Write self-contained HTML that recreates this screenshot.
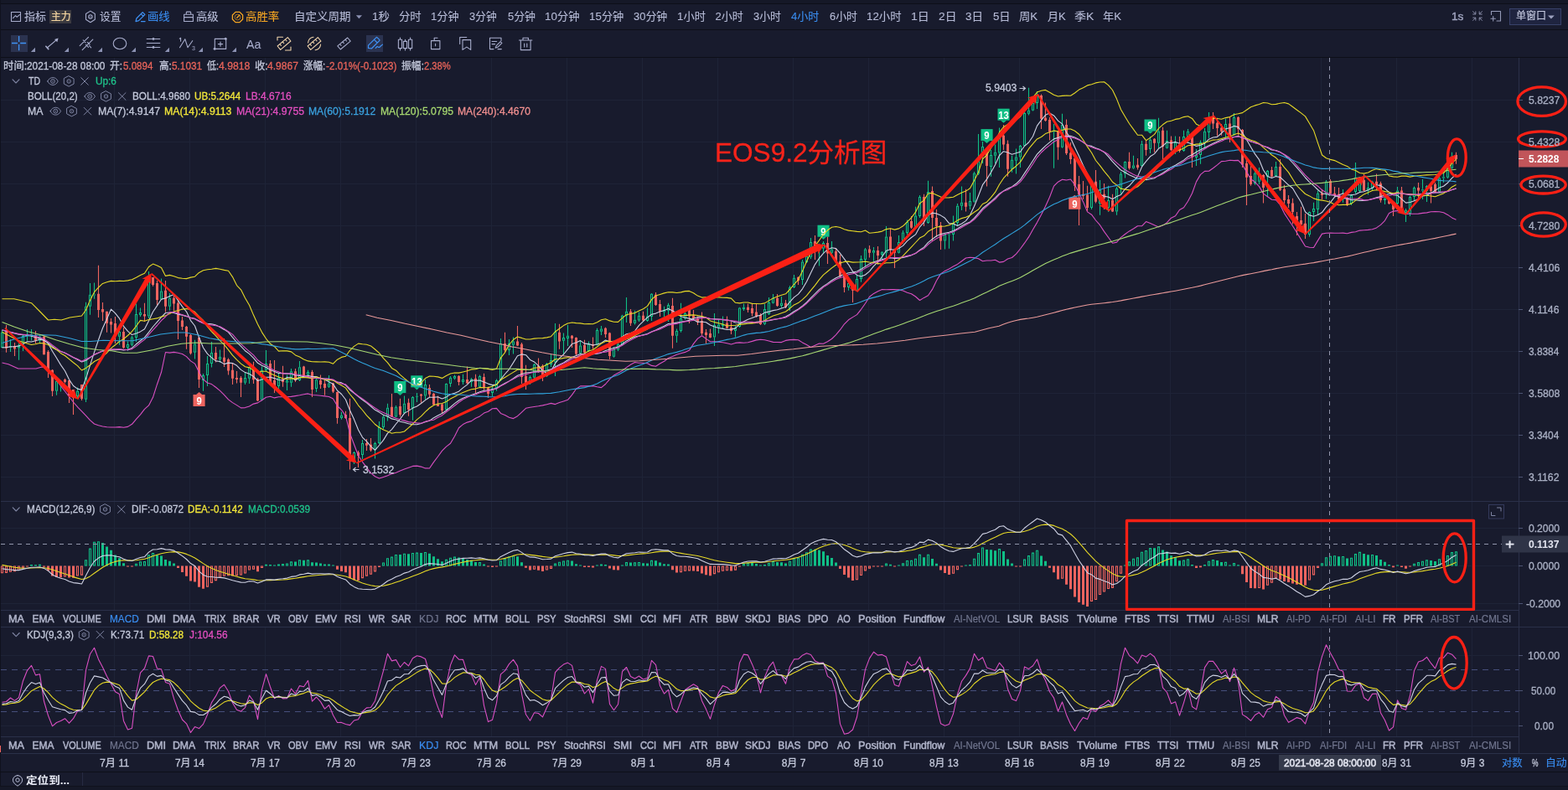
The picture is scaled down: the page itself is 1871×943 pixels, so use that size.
<!DOCTYPE html>
<html lang="zh"><head><meta charset="utf-8"><title>EOS 4小时 K线分析</title><style>
html,body{margin:0;padding:0;background:#181b2d;}
body{width:1871px;height:943px;overflow:hidden;position:relative;font-family:"Liberation Sans","Noto Sans CJK SC",sans-serif;}
.t{position:absolute;white-space:pre;transform-origin:0 50%;-webkit-text-stroke:0.3px currentColor;}
.b{position:absolute;}
svg{position:absolute;left:0;top:0;}
</style></head>
<body>
<div class="b" style="left:0px;top:0px;width:1871px;height:4px;background:#151827;"></div><div class="b" style="left:0px;top:4px;width:1871px;height:1px;background:#0d0f18;"></div><div class="b" style="left:0px;top:35px;width:1871px;height:1px;background:#0d0f18;"></div><div class="b" style="left:0px;top:68px;width:1871px;height:1px;background:#0d0f18;"></div><div class="b" style="left:0px;top:0px;width:1px;height:943px;background:#10121e;"></div><div class="b" style="left:0px;top:921px;width:1871px;height:1px;background:#0d0f18;"></div><div class="b" style="left:0px;top:938px;width:1871px;height:1px;background:#10121c;"></div><div class="b" style="left:0px;top:939px;width:1871px;height:4px;background:#151827;"></div><div class="b" style="left:0px;top:890px;width:1px;height:8px;background:#ee645f;"></div><div class="b" style="left:98px;top:922px;width:1px;height:16px;background:#262b42;"></div><div class="b" style="left:59px;top:12px;width:26px;height:16px;background:#3b3a40;"></div><div class="b" style="left:13px;top:42px;width:20px;height:20px;background:#2b3350;"></div><div class="b" style="left:437px;top:42px;width:20px;height:20px;background:#2b3350;"></div><div class="b" style="left:1801px;top:10px;width:62px;height:20px;background:#1f2440;border:1px solid #39426a;box-sizing:border-box"></div>
<svg width="1871" height="943" viewBox="0 0 1871 943">
<path d="M136.5 69V598M136.5 599V728M136.5 749V879M226.5 69V598M226.5 599V728M226.5 749V879M316.5 69V598M316.5 599V728M316.5 749V879M406.5 69V598M406.5 599V728M406.5 749V879M496.5 69V598M496.5 599V728M496.5 749V879M586.5 69V598M586.5 599V728M586.5 749V879M676.5 69V598M676.5 599V728M676.5 749V879M766.5 69V598M766.5 599V728M766.5 749V879M856.5 69V598M856.5 599V728M856.5 749V879M946.5 69V598M946.5 599V728M946.5 749V879M1036.5 69V598M1036.5 599V728M1036.5 749V879M1126.5 69V598M1126.5 599V728M1126.5 749V879M1216.5 69V598M1216.5 599V728M1216.5 749V879M1306.5 69V598M1306.5 599V728M1306.5 749V879M1396.5 69V598M1396.5 599V728M1396.5 749V879M1486.5 69V598M1486.5 599V728M1486.5 749V879M1576.5 69V598M1576.5 599V728M1576.5 749V879M1666.5 69V598M1666.5 599V728M1666.5 749V879M1756.5 69V598M1756.5 599V728M1756.5 749V879M1 119.5H1812M1 169.5H1812M1 219.5H1812M1 269.5H1812M1 319.5H1812M1 369.5H1812M1 419.5H1812M1 469.5H1812M1 519.5H1812M1 569.5H1812M1 630.5H1812M1 675.5H1812M1 720.5H1812M1 782.5H1812M1 866.5H1812" stroke="#1e2337" stroke-width="1" fill="none"/>
<path d="M1 598.5H1871M1 728.5H1812M1 748.5H1871M1 879.5H1812M1 899.5H1871M1812.5 69V899" stroke="#2a3049" stroke-width="1" fill="none"/>
<path d="M1812 119.5h5M1812 169.5h5M1812 219.5h5M1812 269.5h5M1812 319.5h5M1812 369.5h5M1812 419.5h5M1812 469.5h5M1812 519.5h5M1812 569.5h5M1812 630.5h5M1812 675.5h5M1812 720.5h5M1812 782.5h5M1812 824.5h5M1812 866.5h5" stroke="#4d5473" stroke-width="1" fill="none"/>
<path d="M1 799.5H1812M1 824.5H1812M1 849.5H1812" stroke="#464f7c" stroke-width="1" stroke-dasharray="7 6" fill="none"/>
<path d="M2.5 394V396.7M12.5 405V413M12.5 414.6V420M11 413.8h3M22.5 410V412.8M22.5 415.4V429.8M27.5 399V401M27.5 411V419M32.5 393V399M32.5 401.5V406.7M37.5 393V398.4M37.5 400V406.4M36 399.2h3M47.5 400V401.7M47.5 406.7V410M67.5 466.7V471.7M72.5 458V467.5M71 457.4h3M92.5 462.5V466.7M92.5 473V475M102.5 360.8V365.8M102.5 476.7V480M107.5 338V351.7M107.5 365.8V375.8M112.5 337.5V351M112.5 353V356.7M111 352h3M142.5 391V396M142.5 401.7V411.7M152.5 407.5V411M152.5 415V419M157.5 401V402.5M157.5 411.7V413.3M162.5 362.5V375M162.5 403V408M167.5 367.5V373M167.5 376V378M177.5 324V331M177.5 377.5V380M192.5 332.5V347.5M192.5 357.5V358M202.5 350V355.8M202.5 365.8V370.8M232.5 405.8V410.5M232.5 420.8V428.5M242.5 446V448M242.5 454V466.7M247.5 425V434M247.5 448V461M252.5 408V421M252.5 434V438.5M262.5 417.5V426M262.5 429V433M292.5 444V451M292.5 456.7V459M297.5 437.5V438M297.5 451.7V458M312.5 437.5V441.7M312.5 477.5V478.3M317.5 418V434M317.5 441.7V443M332.5 445V451M332.5 461V464M342.5 447.5V454M342.5 456.7V466M347.5 440V443.3M347.5 456.7V461.7M357.5 431V438.3M357.5 454V455M367.5 441.7V444M367.5 447.5V449M377.5 451.7V453.3M377.5 464V468M392.5 448V457.5M392.5 461.7V463M407.5 491.7V495.8M407.5 499V500.8M422.5 539V540M422.5 551.7V554M432.5 525V529M432.5 543V548M447.5 527.5V529M447.5 536.7V547.5M452.5 503V510M452.5 529V530M457.5 495.8V497.5M457.5 510V512.5M462.5 481.7V486.7M462.5 497.5V502.5M472.5 484V485.8M472.5 497.5V498.3M482.5 472.5V481.7M482.5 493V494M492.5 473V474M492.5 487.5V501.7M497.5 469V472.5M497.5 474V480M496 473.2h3M507.5 453V459M507.5 472.5V477.5M532.5 457.5V458M532.5 489V490M537.5 449V450.8M537.5 458V461.7M542.5 447.5V449M542.5 451.7V453.3M552.5 446.7V453M552.5 456V459M562.5 451V452.5M562.5 456V461.7M572.5 447.5V449M572.5 461.7V462.5M587.5 460V464M587.5 469V473M592.5 452.5V454M592.5 463V466.7M597.5 404V410M597.5 454V455M607.5 405V410M607.5 418V424M612.5 402.5V407.5M612.5 411.7V422.5M632.5 448.3V450M632.5 457.5V459M637.5 434V435M637.5 450.8V451.7M652.5 433V434M652.5 449V450M657.5 422.5V430M657.5 435V438M662.5 386V396M662.5 432.5V449M672.5 397.5V403M672.5 406.7V422.5M677.5 388V400.8M677.5 404V413M692.5 406.7V412.5M692.5 421.7V422.5M702.5 407.5V410.8M702.5 419V420M712.5 391.7V394M712.5 411.7V412.5M717.5 389V392.5M717.5 395.8V400M732.5 414V416.7M732.5 425.8V426.7M737.5 409V410.8M737.5 417.5V419M742.5 375.8V376.7M742.5 411.7V412.5M747.5 355V371.7M747.5 376.7V385M757.5 370.8V381.7M757.5 385.8V387.5M762.5 372.5V376.7M762.5 382.5V384M772.5 367.5V377.5M772.5 383V384M777.5 350V350.8M777.5 378V383M792.5 365.8V370M792.5 372.5V378M797.5 361.7V364M797.5 370.8V384M807.5 392.5V395M807.5 400.8V409M812.5 361.7V380M812.5 395V396.7M817.5 370V374M817.5 380V381.7M852.5 374V388M852.5 402.5V413M857.5 381.7V387.5M857.5 390.8V398M862.5 377.5V386.7M862.5 389V391.7M877.5 389V391.7M877.5 395V402.5M882.5 366.7V367.5M882.5 390V391M887.5 362.5V366.7M887.5 369V371M912.5 363V369M912.5 386.7V388M917.5 355V361M917.5 375V376M922.5 351V355.8M922.5 361.7V362.5M932.5 354V361.7M932.5 365V367.5M942.5 341V343M942.5 368V371M947.5 328V331.7M947.5 343V344M957.5 310V312.5M957.5 334V340M962.5 304V305.8M962.5 313V314M967.5 284V289M967.5 306.7V309M977.5 290.8V291.7M977.5 296.7V317.5M982.5 288V290M982.5 296.7V301.7M992.5 288V297.5M992.5 301.7V303M1012.5 336.7V338M1012.5 343V346.7M1022.5 328V333M1022.5 346.7V348M1027.5 305V309M1027.5 333V336.7M1032.5 296V297.5M1032.5 310V318M1042.5 295V299M1042.5 301.7V311.7M1052.5 300V300.8M1052.5 304V310M1057.5 270V282.5M1057.5 301.7V308M1072.5 281V289M1072.5 301.7V302.5M1077.5 275V277.5M1077.5 289V291M1082.5 262.5V265M1082.5 278V280M1092.5 246.7V257.5M1092.5 270.8V272.5M1097.5 233V235M1097.5 258V260M1107.5 215.8V229M1107.5 266V267M1127.5 279V280M1127.5 287.5V297.5M1132.5 277.5V279M1132.5 281V296.7M1131 280h3M1137.5 257.5V266M1137.5 280V287.5M1142.5 243V245.8M1142.5 266V270M1147.5 222.5V241.7M1147.5 245.8V251M1157.5 230V240M1157.5 245.8V250M1162.5 205V206.7M1162.5 240.8V241.7M1167.5 160V192.5M1167.5 207.5V209M1172.5 169V175M1172.5 182.5V195M1182.5 179V185M1182.5 199V210.8M1187.5 172.5V181.7M1187.5 185.8V195M1192.5 152.5V160.8M1192.5 182.5V200M1207.5 185.8V190.8M1207.5 201.7V205.8M1212.5 177.5V187.5M1212.5 191.7V207.5M1217.5 173V174M1217.5 187.5V200M1222.5 134V135M1222.5 174V175M1227.5 104.7V131.7M1227.5 135.8V137.5M1232.5 115V123M1232.5 131.7V132.5M1237.5 109V113M1237.5 123V130M1257.5 148V155.8M1257.5 158V200.8M1256 156.9h3M1267.5 135.8V149M1267.5 175.8V176.7M1302.5 220V221M1302.5 248V250M1312.5 215V226.7M1312.5 243V256.7M1322.5 221.7V239M1322.5 248V253M1332.5 223V225M1332.5 252.5V256.7M1337.5 205V207.5M1337.5 225V231.7M1342.5 192.5V193M1342.5 207.5V212.5M1352.5 185.8V197.5M1352.5 200.8V201.7M1362.5 168V171.7M1362.5 198V199M1372.5 163V166.7M1372.5 178V183M1382.5 140.8V156.7M1382.5 170.8V176.7M1392.5 155.8V168M1392.5 176.7V177.5M1402.5 162.5V170M1402.5 178V184M1412.5 155.8V163M1412.5 180V181M1417.5 154V156.7M1417.5 165V170M1427.5 178V185M1427.5 188V198M1432.5 167.5V170M1432.5 185V195.8M1437.5 153V156.7M1437.5 170.8V176.7M1442.5 134V145M1442.5 158V165M1462.5 141.7V148M1462.5 157.5V165M1472.5 135V140M1472.5 160.8V161.7M1497.5 199V206.7M1497.5 219V220.8M1502.5 200V210M1502.5 216.7V220M1512.5 203V204M1512.5 210.8V235M1522.5 193V199M1522.5 210V210.8M1562.5 252.5V253M1562.5 280V282.5M1567.5 241.7V249M1567.5 253V264M1572.5 227.5V230.8M1572.5 250V256.7M1582.5 215V216.7M1582.5 231.7V237.5M1602.5 226V233M1602.5 238V241.7M1612.5 231.7V233M1612.5 243V245M1617.5 194V211.7M1617.5 229V231M1622.5 211V213M1622.5 228V229M1632.5 217.5V224M1632.5 227.5V232.5M1637.5 215.8V216.7M1637.5 225V228M1652.5 235V236.7M1652.5 239V244M1667.5 223V227.5M1667.5 243V244M1677.5 249V250.8M1677.5 254V265M1682.5 234V235M1682.5 255V258M1687.5 222.5V224M1687.5 235V240M1697.5 214V225.8M1697.5 228V238M1696 226.9h3M1702.5 221V222M1702.5 228V241M1717.5 210V212.5M1717.5 229V230M1722.5 204V210.8M1722.5 213V218M1721 211.9h3M1727.5 199V200M1727.5 211.7V213M1732.5 181.7V186.7M1732.5 200.8V201.7" stroke="#10bf86" stroke-width="1.1" fill="none"/>
<path d="M1.5 397.2h2V414.5h-2ZM21.5 413.3h2V414.9h-2ZM26.5 401.5h2V410.5h-2ZM31.5 399.5h2V401h-2ZM46.5 402.2h2V406.2h-2ZM66.5 455.5h2V466.2h-2ZM91.5 467.2h2V472.5h-2ZM101.5 366.3h2V476.2h-2ZM106.5 352.2h2V365.3h-2ZM141.5 396.5h2V401.2h-2ZM151.5 411.5h2V414.5h-2ZM156.5 403h2V411.2h-2ZM161.5 375.5h2V402.5h-2ZM166.5 373.5h2V375.5h-2ZM176.5 331.5h2V377h-2ZM191.5 348h2V357h-2ZM201.5 356.3h2V365.3h-2ZM231.5 411h2V420.3h-2ZM241.5 448.5h2V453.5h-2ZM246.5 434.5h2V447.5h-2ZM251.5 421.5h2V433.5h-2ZM261.5 426.5h2V428.5h-2ZM291.5 451.5h2V456.2h-2ZM296.5 438.5h2V451.2h-2ZM311.5 442.2h2V477h-2ZM316.5 434.5h2V441.2h-2ZM331.5 451.5h2V460.5h-2ZM341.5 454.5h2V456.2h-2ZM346.5 443.8h2V456.2h-2ZM356.5 438.8h2V453.5h-2ZM366.5 444.5h2V447h-2ZM376.5 453.8h2V463.5h-2ZM391.5 458h2V461.2h-2ZM406.5 496.3h2V498.5h-2ZM421.5 540.5h2V551.2h-2ZM431.5 529.5h2V542.5h-2ZM446.5 529.5h2V536.2h-2ZM451.5 510.5h2V528.5h-2ZM456.5 498h2V509.5h-2ZM461.5 487.2h2V497h-2ZM471.5 486.3h2V497h-2ZM481.5 482.2h2V492.5h-2ZM491.5 474.5h2V487h-2ZM506.5 459.5h2V472h-2ZM531.5 458.5h2V488.5h-2ZM536.5 451.3h2V457.5h-2ZM541.5 449.5h2V451.2h-2ZM551.5 453.5h2V455.5h-2ZM561.5 453h2V455.5h-2ZM571.5 449.5h2V461.2h-2ZM586.5 464.5h2V468.5h-2ZM591.5 454.5h2V462.5h-2ZM596.5 410.5h2V453.5h-2ZM606.5 410.5h2V417.5h-2ZM611.5 408h2V411.2h-2ZM631.5 450.5h2V457h-2ZM636.5 435.5h2V450.3h-2ZM651.5 434.5h2V448.5h-2ZM656.5 430.5h2V434.5h-2ZM661.5 396.5h2V432h-2ZM671.5 403.5h2V406.2h-2ZM676.5 401.3h2V403.5h-2ZM691.5 413h2V421.2h-2ZM701.5 411.3h2V418.5h-2ZM711.5 394.5h2V411.2h-2ZM716.5 393h2V395.3h-2ZM731.5 417.2h2V425.3h-2ZM736.5 411.3h2V417h-2ZM741.5 377.2h2V411.2h-2ZM746.5 372.2h2V376.2h-2ZM756.5 382.2h2V385.3h-2ZM761.5 377.2h2V382h-2ZM771.5 378h2V382.5h-2ZM776.5 351.3h2V377.5h-2ZM791.5 370.5h2V372h-2ZM796.5 364.5h2V370.3h-2ZM806.5 395.5h2V400.3h-2ZM811.5 380.5h2V394.5h-2ZM816.5 374.5h2V379.5h-2ZM851.5 388.5h2V402h-2ZM856.5 388h2V390.3h-2ZM861.5 387.2h2V388.5h-2ZM876.5 392.2h2V394.5h-2ZM881.5 368h2V389.5h-2ZM886.5 367.2h2V368.5h-2ZM911.5 369.5h2V386.2h-2ZM916.5 361.5h2V374.5h-2ZM921.5 356.3h2V361.2h-2ZM931.5 362.2h2V364.5h-2ZM941.5 343.5h2V367.5h-2ZM946.5 332.2h2V342.5h-2ZM956.5 313h2V333.5h-2ZM961.5 306.3h2V312.5h-2ZM966.5 289.5h2V306.2h-2ZM976.5 292.2h2V296.2h-2ZM981.5 290.5h2V296.2h-2ZM991.5 298h2V301.2h-2ZM1011.5 338.5h2V342.5h-2ZM1021.5 333.5h2V346.2h-2ZM1026.5 309.5h2V332.5h-2ZM1031.5 298h2V309.5h-2ZM1041.5 299.5h2V301.2h-2ZM1051.5 301.3h2V303.5h-2ZM1056.5 283h2V301.2h-2ZM1071.5 289.5h2V301.2h-2ZM1076.5 278h2V288.5h-2ZM1081.5 265.5h2V277.5h-2ZM1091.5 258h2V270.3h-2ZM1096.5 235.5h2V257.5h-2ZM1106.5 229.5h2V265.5h-2ZM1126.5 280.5h2V287h-2ZM1136.5 266.5h2V279.5h-2ZM1141.5 246.3h2V265.5h-2ZM1146.5 242.2h2V245.3h-2ZM1156.5 240.5h2V245.3h-2ZM1161.5 207.2h2V240.3h-2ZM1166.5 193h2V207h-2ZM1171.5 175.5h2V182h-2ZM1181.5 185.5h2V198.5h-2ZM1186.5 182.2h2V185.3h-2ZM1191.5 161.3h2V182h-2ZM1206.5 191.3h2V201.2h-2ZM1211.5 188h2V191.2h-2ZM1216.5 174.5h2V187h-2ZM1221.5 135.5h2V173.5h-2ZM1226.5 132.2h2V135.3h-2ZM1231.5 123.5h2V131.2h-2ZM1236.5 113.5h2V122.5h-2ZM1266.5 149.5h2V175.3h-2ZM1301.5 221.5h2V247.5h-2ZM1311.5 227.2h2V242.5h-2ZM1321.5 239.5h2V247.5h-2ZM1331.5 225.5h2V252h-2ZM1336.5 208h2V224.5h-2ZM1341.5 193.5h2V207h-2ZM1351.5 198h2V200.3h-2ZM1361.5 172.2h2V197.5h-2ZM1371.5 167.2h2V177.5h-2ZM1381.5 157.2h2V170.3h-2ZM1391.5 168.5h2V176.2h-2ZM1401.5 170.5h2V177.5h-2ZM1411.5 163.5h2V179.5h-2ZM1416.5 157.2h2V164.5h-2ZM1426.5 185.5h2V187.5h-2ZM1431.5 170.5h2V184.5h-2ZM1436.5 157.2h2V170.3h-2ZM1441.5 145.5h2V157.5h-2ZM1461.5 148.5h2V157h-2ZM1471.5 140.5h2V160.3h-2ZM1496.5 207.2h2V218.5h-2ZM1501.5 210.5h2V216.2h-2ZM1511.5 204.5h2V210.3h-2ZM1521.5 199.5h2V209.5h-2ZM1561.5 253.5h2V279.5h-2ZM1566.5 249.5h2V252.5h-2ZM1571.5 231.3h2V249.5h-2ZM1581.5 217.2h2V231.2h-2ZM1601.5 233.5h2V237.5h-2ZM1611.5 233.5h2V242.5h-2ZM1616.5 212.2h2V228.5h-2ZM1621.5 213.5h2V227.5h-2ZM1631.5 224.5h2V227h-2ZM1636.5 217.2h2V224.5h-2ZM1651.5 237.2h2V238.5h-2ZM1666.5 228h2V242.5h-2ZM1676.5 251.3h2V253.5h-2ZM1681.5 235.5h2V254.5h-2ZM1686.5 224.5h2V234.5h-2ZM1701.5 222.5h2V227.5h-2ZM1716.5 213h2V228.5h-2ZM1726.5 200.5h2V211.2h-2ZM1731.5 187.2h2V200.3h-2Z" stroke="#10bf86" stroke-width="1.1" fill="#181b2d"/>
<path d="M7.5 388V420.8M17.5 409V425M42.5 395V410M52.5 401V423.3M57.5 418V451M62.5 441V473M77.5 451.7V457.5M82.5 454V481M87.5 465V495M97.5 459V478M117.5 316.7V379M122.5 361V383M127.5 371.7V396.7M132.5 380V397.5M137.5 378V410M147.5 391V416M172.5 361.7V384M182.5 331V341.7M187.5 335V364M197.5 335V372.5M207.5 353V370.8M212.5 357.5V405M217.5 378V394M222.5 389V416.7M227.5 399V423.3M237.5 403V463M257.5 414V432.5M267.5 404V438M272.5 427.5V447.5M277.5 434V459M282.5 443V457.5M287.5 449V474M302.5 431.7V458M307.5 451V479M322.5 430V456.7M327.5 430V469M337.5 436.7V461.7M352.5 440V456M362.5 436.7V450M372.5 441.7V474M382.5 447.5V464M387.5 454V471.7M397.5 456.7V469M402.5 467.5V505.8M412.5 490.8V500M417.5 475.8V560.5M427.5 538V558M437.5 524V538M442.5 523V539M467.5 470V498M477.5 475.8V497.5M487.5 475.8V496.7M502.5 470V480.8M512.5 459V474M517.5 469V484M522.5 472.5V485M527.5 481.7V493M547.5 448V460M557.5 437.5V458M567.5 446.7V469M577.5 445.8V465.8M582.5 461.7V475M602.5 396.7V421M617.5 389V413M622.5 409V458M627.5 435.8V465M642.5 427.5V445M647.5 435V455M667.5 386.7V416.7M682.5 400V415M687.5 402.5V424M697.5 405.8V421.7M707.5 402.5V416.7M722.5 390.8V403M727.5 396.7V429M752.5 369V389M767.5 371.7V384M782.5 349V365M787.5 358V378M802.5 355.8V415.8M822.5 368V386M827.5 370V382.5M832.5 377.5V388M837.5 372.5V400M842.5 393V410M847.5 392.5V403.5M867.5 377.5V392.5M872.5 384V399M892.5 362.5V373M897.5 363V377.5M902.5 363V379M907.5 374V388M927.5 351V366M937.5 358V368M952.5 330V340M972.5 281V310M987.5 282.5V315M997.5 296V313M1002.5 304V331M1007.5 328V349M1017.5 338V361M1037.5 293V307.5M1047.5 294V316M1062.5 272.5V303M1067.5 296.7V320M1087.5 258V273M1102.5 231.7V270M1112.5 222.5V288M1117.5 250V283M1122.5 265V298M1152.5 225.8V252.5M1177.5 178V222.5M1197.5 149V179M1202.5 167.5V210.8M1242.5 112.5V154M1247.5 122.5V145M1252.5 140V167.5M1262.5 155.8V190.8M1272.5 142.5V185M1277.5 170V195.8M1282.5 188V228M1287.5 210V269M1292.5 216V238M1297.5 221.7V251.7M1307.5 203V242.5M1317.5 219V250M1327.5 231.7V253M1347.5 181.7V202.5M1357.5 189V202.5M1367.5 167.5V185.8M1377.5 165V181.7M1387.5 151.7V190M1397.5 162.5V180M1407.5 163V182M1422.5 160.8V200M1447.5 134V154M1452.5 140.8V162.5M1457.5 148V161.7M1467.5 140V170M1477.5 139V161.7M1482.5 154V200M1487.5 190.8V245M1492.5 198V221.7M1507.5 208V242.5M1517.5 199V211.7M1527.5 190V228M1532.5 220.8V243M1537.5 233V248M1542.5 236.7V267.5M1547.5 253V281M1552.5 246.7V269M1557.5 255V285M1577.5 225.8V238M1587.5 214V231.4M1592.5 223V235M1597.5 224V239M1607.5 235V246M1627.5 208V228M1642.5 207.5V226.7M1647.5 216.7V241.7M1657.5 235.8V244M1662.5 240.8V258M1672.5 223V249M1692.5 218V236.7M1707.5 221.7V242.5M1712.5 218V230M1737.5 181.7V195.8" stroke="#ee645f" stroke-width="1.1" fill="none"/>
<path d="M6 395.8h3V415.8h-3ZM16 413h3V416.5h-3ZM41 400h3V406.7h-3ZM51 401.7h3V423.3h-3ZM56 420h3V441.7h-3ZM61 441.7h3V466.7h-3ZM76 453h3V456h-3ZM81 454h3V473h-3ZM86 465h3V475h-3ZM96 459h3V476h-3ZM116 350.8h3V370h-3ZM121 369h3V372.5h-3ZM126 371.7h3V385.8h-3ZM131 384h3V387.5h-3ZM136 386h3V400h-3ZM146 396h3V415h-3ZM171 375h3V377.5h-3ZM181 331h3V340h-3ZM186 338h3V358h-3ZM196 346.7h3V365.8h-3ZM206 355.8h3V362.5h-3ZM211 361.7h3V383h-3ZM216 382.5h3V390h-3ZM221 390h3V401.7h-3ZM226 400h3V421.7h-3ZM236 403h3V453h-3ZM256 421h3V429h-3ZM266 426.7h3V431.7h-3ZM271 429h3V442.5h-3ZM276 441.7h3V451.7h-3ZM281 451h3V453h-3ZM286 451h3V456.7h-3ZM301 441.7h3V453.3h-3ZM306 452.5h3V478.3h-3ZM321 434h3V456h-3ZM326 454h3V461h-3ZM336 452.5h3V456h-3ZM351 443.3h3V454h-3ZM361 437.5h3V449h-3ZM371 444h3V465h-3ZM381 454h3V459h-3ZM386 458h3V463h-3ZM396 457.5h3V467.5h-3ZM401 468h3V499h-3ZM411 495h3V499h-3ZM416 499h3V550h-3ZM426 540h3V544h-3ZM436 529h3V531.7h-3ZM441 530.8h3V537.5h-3ZM466 485.8h3V497.5h-3ZM476 485h3V495h-3ZM486 480.8h3V489h-3ZM501 470.8h3V472.5h-3ZM511 463h3V470.8h-3ZM516 470h3V483h-3ZM521 482.5h3V485h-3ZM526 482.5h3V490h-3ZM546 449h3V456h-3ZM556 453h3V457.5h-3ZM566 451.7h3V461.7h-3ZM576 450h3V463h-3ZM581 462.5h3V470h-3ZM601 410h3V418h-3ZM616 407.5h3V412.5h-3ZM621 410.8h3V450h-3ZM626 449h3V460h-3ZM641 436.7h3V443h-3ZM646 436.7h3V449h-3ZM666 396.7h3V407.5h-3ZM681 400.8h3V404h-3ZM686 403h3V422.5h-3ZM696 411.7h3V420.8h-3ZM706 411h3V413h-3ZM721 391.7h3V399h-3ZM726 397.5h3V425h-3ZM751 371.7h3V385.8h-3ZM766 376.7h3V382.5h-3ZM781 351.7h3V364h-3ZM786 363h3V371.7h-3ZM801 365h3V400.8h-3ZM821 369h3V377.5h-3ZM826 376.7h3V380h-3ZM831 380h3V384h-3ZM836 383h3V398h-3ZM841 396.7h3V400h-3ZM846 398h3V403h-3ZM866 385.8h3V391.7h-3ZM871 390.8h3V395h-3ZM891 366.7h3V370h-3ZM896 368h3V374h-3ZM901 372.5h3V377.5h-3ZM906 376h3V387h-3ZM926 355.8h3V365h-3ZM936 361.7h3V366.7h-3ZM951 331h3V335h-3ZM971 288h3V294h-3ZM986 290h3V302.5h-3ZM996 300h3V311.7h-3ZM1001 311.7h3V330h-3ZM1006 329h3V343h-3ZM1016 339h3V346.7h-3ZM1036 297.5h3V301.7h-3ZM1046 299h3V305h-3ZM1061 282.5h3V298h-3ZM1066 297.5h3V301.7h-3ZM1086 264h3V271.7h-3ZM1101 235h3V262.5h-3ZM1111 228h3V260h-3ZM1116 260h3V270h-3ZM1121 269h3V287.5h-3ZM1151 241.7h3V246.7h-3ZM1176 180h3V198h-3ZM1196 161.7h3V172.5h-3ZM1201 171.7h3V201.7h-3ZM1241 114h3V141.7h-3ZM1246 140.8h3V144h-3ZM1251 143h3V157.5h-3ZM1261 156.7h3V175.8h-3ZM1271 149h3V183h-3ZM1276 182.5h3V190h-3ZM1281 189h3V221.7h-3ZM1286 220h3V232.5h-3ZM1291 231.7h3V234h-3ZM1296 232.5h3V248h-3ZM1306 216.7h3V240.8h-3ZM1316 231.7h3V236.7h-3ZM1326 239h3V252.5h-3ZM1346 193h3V200.8h-3ZM1356 196.7h3V200h-3ZM1366 171.7h3V179h-3ZM1376 165.8h3V170.8h-3ZM1386 155.8h3V175h-3ZM1396 167.5h3V179h-3ZM1406 173h3V180h-3ZM1421 161.7h3V188h-3ZM1446 140h3V147.5h-3ZM1451 146.7h3V153h-3ZM1456 152.5h3V156.7h-3ZM1466 147.5h3V162.5h-3ZM1476 140h3V154h-3ZM1481 155h3V196.7h-3ZM1486 195h3V211.7h-3ZM1491 210h3V220h-3ZM1506 209h3V224h-3ZM1516 203h3V210.8h-3ZM1526 199h3V226.7h-3ZM1531 225.8h3V239h-3ZM1536 238h3V243h-3ZM1541 242.5h3V253h-3ZM1546 258h3V263h-3ZM1551 263h3V268h-3ZM1556 266.7h3V280h-3ZM1576 230.8h3V233h-3ZM1586 216h3V230.7h-3ZM1591 230.8h3V233h-3ZM1596 231.7h3V238h-3ZM1606 236h3V245h-3ZM1626 215h3V227.5h-3ZM1641 216.7h3V220h-3ZM1646 219h3V239h-3ZM1656 236.7h3V243h-3ZM1661 241.7h3V250h-3ZM1671 227.5h3V248h-3ZM1691 224h3V227.5h-3ZM1706 222.5h3V228h-3ZM1711 220h3V229h-3ZM1736 185h3V190h-3Z" fill="#ee645f"/>
<rect x="230.5" y="471" width="14.1" height="14" fill="#ee645f"/><path d="M234.1 471L237.6 468L241.1 471Z" fill="#ee645f"/><text x="237.6" y="482.9" font-size="12.5" font-weight="700" fill="#fff" text-anchor="middle" textLength="6.3" lengthAdjust="spacingAndGlyphs">9</text>
<rect x="470.3" y="455" width="14.1" height="14" fill="#10bf86"/><path d="M473.9 469L477.4 472L480.9 469Z" fill="#10bf86"/><text x="477.4" y="466.9" font-size="12.5" font-weight="700" fill="#fff" text-anchor="middle" textLength="6.3" lengthAdjust="spacingAndGlyphs">9</text>
<rect x="490.3" y="448.3" width="14.1" height="14" fill="#10bf86"/><path d="M493.9 462.3L497.4 465.3L500.9 462.3Z" fill="#10bf86"/><text x="497.4" y="460.2" font-size="12.5" font-weight="700" fill="#fff" text-anchor="middle" textLength="12.6" lengthAdjust="spacingAndGlyphs">13</text>
<rect x="975.5" y="268.7" width="14.1" height="14" fill="#10bf86"/><path d="M979 282.7L982.5 285.7L986 282.7Z" fill="#10bf86"/><text x="982.5" y="280.6" font-size="12.5" font-weight="700" fill="#fff" text-anchor="middle" textLength="6.3" lengthAdjust="spacingAndGlyphs">9</text>
<rect x="1170.5" y="154.1" width="14.1" height="14" fill="#10bf86"/><path d="M1174 168.1L1177.5 171.1L1181 168.1Z" fill="#10bf86"/><text x="1177.5" y="166" font-size="12.5" font-weight="700" fill="#fff" text-anchor="middle" textLength="6.3" lengthAdjust="spacingAndGlyphs">9</text>
<rect x="1190.5" y="129.7" width="14.1" height="14" fill="#10bf86"/><path d="M1194 143.7L1197.5 146.7L1201 143.7Z" fill="#10bf86"/><text x="1197.5" y="141.6" font-size="12.5" font-weight="700" fill="#fff" text-anchor="middle" textLength="12.6" lengthAdjust="spacingAndGlyphs">13</text>
<rect x="1275.3" y="235.8" width="14.1" height="14" fill="#ee645f"/><path d="M1278.8 235.8L1282.3 232.8L1285.8 235.8Z" fill="#ee645f"/><text x="1282.3" y="247.7" font-size="12.5" font-weight="700" fill="#fff" text-anchor="middle" textLength="6.3" lengthAdjust="spacingAndGlyphs">9</text>
<rect x="1365.5" y="142.5" width="14.1" height="14" fill="#10bf86"/><path d="M1369 156.5L1372.5 159.5L1376 156.5Z" fill="#10bf86"/><text x="1372.5" y="154.4" font-size="12.5" font-weight="700" fill="#fff" text-anchor="middle" textLength="6.3" lengthAdjust="spacingAndGlyphs">9</text>
<path d="M2.5 356.7 16.7 356.7 26.7 359 37.5 361.7 48.3 372.5 57.5 382 65 381.3 73.3 382 83.3 379 97.5 377 102.5 370 107.5 358.4 112.5 348.7 117.5 343.1 122.5 338.4 127.5 336.8 132.5 335.4 137.5 335.7 142.5 335.4 147.5 335.5 152.5 334.9 157.5 333.8 162.5 331.3 167.5 328.6 172.5 326.2 177.5 318.5 182.5 315.1 187.5 316.9 192.5 319.4 197.5 329.4 202.5 328.4 207.5 329.7 212.5 331.6 217.5 332.2 222.5 332.6 227.5 331.1 232.5 330.2 237.5 325.4 242.5 322.7 247.5 321.7 252.5 321.2 257.5 320.4 262.5 321.3 267.5 322.4 272.5 323.2 277.5 330.6 282.5 340.6 287.5 345.8 292.5 355.7 297.5 364.3 302.5 376.1 307.5 387.1 312.5 396.6 317.5 404.3 322.5 410.3 327.5 413.7 332.5 419.1 337.5 418.8 342.5 418.9 347.5 419.9 352.5 423.9 357.5 426 362.5 429 367.5 430.9 372.5 431.7 377.5 431.9 382.5 432 387.5 431.9 392.5 432.2 397.5 434.2 402.5 429.2 407.5 426.4 412.5 425.2 417.5 418.3 422.5 413.4 427.5 410.1 432.5 410.8 437.5 411.3 442.5 412.9 447.5 417 452.5 421.4 457.5 427.7 462.5 432.9 467.5 439.4 472.5 442.2 477.5 447.4 482.5 451.7 487.5 455.8 492.5 459.2 497.5 460.1 502.5 457 507.5 451.6 512.5 449.1 517.5 449.3 522.5 449.9 527.5 451.4 532.5 448.5 537.5 446 542.5 445 547.5 445.1 552.5 444 557.5 442.8 562.5 440.9 567.5 440.7 572.5 439.3 577.5 439.9 582.5 440.4 587.5 441.4 592.5 440.1 597.5 427.2 602.5 420.8 607.5 411.5 612.5 405.5 617.5 402 622.5 403.4 627.5 405 632.5 405 637.5 404.1 642.5 403.8 647.5 403.6 652.5 402.9 657.5 401.7 662.5 396 667.5 392.3 672.5 388.6 677.5 386 682.5 385 687.5 385.6 692.5 385.9 697.5 386.8 702.5 386.6 707.5 386.8 712.5 384.7 717.5 381.8 722.5 380.7 727.5 382.9 732.5 384.3 737.5 384.4 742.5 379.6 747.5 375.8 752.5 374.5 757.5 373.6 762.5 371.1 767.5 368.8 772.5 365.4 777.5 357.6 782.5 353 787.5 351.4 792.5 349.9 797.5 348.8 802.5 348.9 807.5 349.5 812.5 348.9 817.5 347.6 822.5 347.4 827.5 349.7 832.5 353.1 837.5 355.1 842.5 354.8 847.5 354.6 852.5 354.7 857.5 354.9 862.5 355.2 867.5 355.4 872.5 356.1 877.5 361.3 882.5 361.9 887.5 361 892.5 361 897.5 362.4 902.5 362.5 907.5 362.8 912.5 361.9 917.5 358.9 922.5 355.9 927.5 354 932.5 352.2 937.5 350.8 942.5 345.5 947.5 339.4 952.5 334.1 957.5 323.6 962.5 312 967.5 301.6 972.5 293.6 977.5 286.8 982.5 279.8 987.5 274.8 992.5 271.3 997.5 270.5 1002.5 271.5 1007.5 273.8 1012.5 275.1 1017.5 275.8 1022.5 276.4 1027.5 276.7 1032.5 275 1037.5 278.2 1042.5 277.7 1047.5 277.1 1052.5 276.1 1057.5 273.6 1062.5 272.7 1067.5 274.1 1072.5 272.9 1077.5 269.8 1082.5 264.8 1087.5 259.9 1092.5 253.2 1097.5 242.8 1102.5 239.1 1107.5 231 1112.5 230.4 1117.5 232.7 1122.5 235.1 1127.5 236 1132.5 235.9 1137.5 235.3 1142.5 232.5 1147.5 230 1152.5 228.1 1157.5 224.8 1162.5 215.5 1167.5 205.5 1172.5 189.8 1177.5 185 1182.5 176.8 1187.5 169.4 1192.5 157.9 1197.5 151.5 1202.5 148.5 1207.5 145.5 1212.5 142.7 1217.5 139.3 1222.5 131.8 1227.5 123.9 1232.5 116.3 1237.5 110.1 1242.5 108.2 1247.5 107.4 1252.5 110.2 1257.5 113.2 1262.5 115 1267.5 114.4 1272.5 114.1 1277.5 114.3 1282.5 111 1287.5 107.1 1292.5 104.7 1297.5 101.9 1302.5 100.7 1307.5 98.9 1312.5 98 1317.5 97.7 1322.5 101.6 1327.5 107.5 1332.5 118.1 1337.5 130.8 1342.5 139.2 1347.5 147.5 1352.5 154.3 1357.5 161.3 1362.5 161.2 1367.5 167.7 1372.5 164.4 1377.5 160.4 1382.5 153.3 1387.5 148.8 1392.5 145.3 1397.5 144.3 1402.5 142.4 1407.5 141.6 1412.5 139.6 1417.5 138.8 1422.5 141.4 1427.5 148.2 1432.5 150.5 1437.5 149.4 1442.5 143.4 1447.5 141.2 1452.5 141.5 1457.5 142.3 1462.5 140.6 1467.5 139.6 1472.5 136.7 1477.5 135.8 1482.5 134.6 1487.5 131.2 1492.5 127.7 1497.5 125.9 1502.5 124.5 1507.5 122.5 1512.5 123 1517.5 124.7 1522.5 124.4 1527.5 123.2 1532.5 122.5 1537.5 123.9 1542.5 127.5 1547.5 131.2 1552.5 134.9 1557.5 138.9 1562.5 147.2 1567.5 155.7 1572.5 170.6 1577.5 185 1582.5 188.8 1587.5 190.4 1592.5 191.6 1597.5 194 1602.5 196.5 1607.5 198.4 1612.5 201.9 1617.5 203.5 1622.5 206.5 1627.5 207.1 1632.5 206 1637.5 203.3 1642.5 201.6 1647.5 202.7 1652.5 203.2 1657.5 210 1662.5 210.9 1667.5 211.3 1672.5 210.1 1677.5 210.1 1682.5 211.1 1687.5 210.3 1692.5 209.7 1697.5 209.3 1702.5 208.9 1707.5 208.8 1712.5 208.5 1717.5 208 1722.5 206.5 1727.5 201.6 1732.5 194.8 1737.5 190.1" stroke="#e6d927" stroke-width="1.1" fill="none" stroke-linejoin="round" />
<path d="M2.5 394 7.5 395.4 12.5 396.6 17.5 397.9 22.5 399.1 27.5 399.7 32.5 400.2 37.5 401.3 42.5 402.7 47.5 403.9 52.5 406.2 57.5 409.4 62.5 413.8 67.5 417.6 72.5 419.5 77.5 421.3 82.5 424 87.5 426.8 92.5 429.2 97.5 432 102.5 430.3 107.5 426.9 112.5 423.6 117.5 421.2 122.5 419.1 127.5 418.3 132.5 417.7 137.5 417.8 142.5 417.3 147.5 417.9 152.5 417.3 157.5 415.4 162.5 410.8 167.5 406.8 172.5 402.9 177.5 396.6 182.5 390 187.5 384.4 192.5 378.6 197.5 373.5 202.5 373 207.5 373.5 212.5 375.1 217.5 376.1 222.5 377.6 227.5 379.3 232.5 380.4 237.5 382.9 242.5 385.4 247.5 386.3 252.5 386.7 257.5 388 262.5 390.5 267.5 393.4 272.5 396.6 277.5 402.7 282.5 408.5 287.5 413.4 292.5 418.7 297.5 422.4 302.5 427.4 307.5 433.3 312.5 436.3 317.5 438.6 322.5 441.4 327.5 443.4 332.5 445.4 337.5 445.6 342.5 445.9 347.5 446.3 352.5 448 357.5 448.5 362.5 449.7 367.5 450.3 372.5 451.4 377.5 451.5 382.5 451.8 387.5 452.1 392.5 452.4 397.5 453.9 402.5 456.1 407.5 456.9 412.5 459.8 417.5 465.3 422.5 469.4 427.5 473.3 432.5 477.2 437.5 480.9 442.5 485 447.5 489.3 452.5 492.1 457.5 495.2 462.5 497.1 467.5 499.9 472.5 501 477.5 503.2 482.5 504.3 487.5 505.7 492.5 506.6 497.5 506.8 502.5 505.5 507.5 503.6 512.5 502.1 517.5 498.8 522.5 496.1 527.5 493.5 532.5 490 537.5 486 542.5 481.6 547.5 478 552.5 475.2 557.5 473.2 562.5 471.5 567.5 469.7 572.5 467.8 577.5 466.3 582.5 465.7 587.5 464.5 592.5 463.5 597.5 460.2 602.5 457.5 607.5 454.9 612.5 451.7 617.5 448.2 622.5 446.5 627.5 445 632.5 444.6 637.5 443.9 642.5 443.6 647.5 443.2 652.5 442.3 657.5 440.9 662.5 438 667.5 435.3 672.5 433 677.5 429.8 682.5 426.6 687.5 424.6 692.5 422.5 697.5 423.1 702.5 422.7 707.5 422.8 712.5 422.2 717.5 421.1 722.5 418.6 727.5 416.9 732.5 415.3 737.5 414.1 742.5 410.7 747.5 406.9 752.5 404.5 757.5 402.1 762.5 401.1 767.5 399.8 772.5 398.6 777.5 396 782.5 393.9 787.5 391.4 792.5 389.3 797.5 386.5 802.5 386 807.5 385.1 812.5 384.4 817.5 383.5 822.5 382.4 827.5 380.2 832.5 378.6 837.5 378 842.5 379.2 847.5 380.7 852.5 380.8 857.5 381.1 862.5 381.6 867.5 382.1 872.5 383 877.5 385 882.5 385.2 887.5 385 892.5 385 897.5 385.5 902.5 384.3 907.5 383.9 912.5 383.4 917.5 382.7 922.5 381.6 927.5 380.8 932.5 379.7 937.5 378.1 942.5 375.3 947.5 371.7 952.5 369 957.5 365.1 962.5 361 967.5 355.7 972.5 350.6 977.5 345.6 982.5 341.6 987.5 338.4 992.5 334.7 997.5 331.7 1002.5 329.4 1007.5 327.3 1012.5 325.8 1017.5 325.1 1022.5 324 1027.5 321.2 1032.5 318.1 1037.5 314.9 1042.5 312.7 1047.5 311.4 1052.5 309.7 1057.5 308.2 1062.5 307.8 1067.5 308.4 1072.5 308.2 1077.5 307.4 1082.5 306.1 1087.5 304.6 1092.5 302.5 1097.5 298.5 1102.5 295.1 1107.5 289.4 1112.5 285.5 1117.5 281.8 1122.5 279.6 1127.5 278.2 1132.5 277.3 1137.5 275.5 1142.5 272.9 1147.5 269.7 1152.5 267 1157.5 264.9 1162.5 260.3 1167.5 254.7 1172.5 248.8 1177.5 244.8 1182.5 240.7 1187.5 236.1 1192.5 231.1 1197.5 227.9 1202.5 224.9 1207.5 222.9 1212.5 219.3 1217.5 214.5 1222.5 206.9 1227.5 199.5 1232.5 191.8 1237.5 184.1 1242.5 179 1247.5 174.2 1252.5 169.9 1257.5 165.9 1262.5 164.4 1267.5 162.2 1272.5 162.6 1277.5 162.3 1282.5 164 1287.5 166.4 1292.5 169.9 1297.5 173.5 1302.5 174.4 1307.5 176.8 1312.5 178.6 1317.5 181.7 1322.5 186.9 1327.5 192.9 1332.5 198.1 1337.5 203.1 1342.5 205.8 1347.5 208.8 1352.5 210.9 1357.5 213.2 1362.5 213 1367.5 214.6 1372.5 213.8 1377.5 212.8 1382.5 209.4 1387.5 206.5 1392.5 203.2 1397.5 199.8 1402.5 197.2 1407.5 194.3 1412.5 191.1 1417.5 187.1 1422.5 184.7 1427.5 181.5 1432.5 178.8 1437.5 176.2 1442.5 173.8 1447.5 171.2 1452.5 169 1457.5 166.8 1462.5 165.6 1467.5 164.8 1472.5 163.5 1477.5 162.6 1482.5 164.6 1487.5 166.3 1492.5 168.9 1497.5 170.2 1502.5 172.1 1507.5 174.3 1512.5 176.3 1517.5 179 1522.5 179.5 1527.5 181.5 1532.5 184.9 1537.5 189.1 1542.5 194.5 1547.5 200.2 1552.5 205.9 1557.5 212 1562.5 217.3 1567.5 221.7 1572.5 226.5 1577.5 230.7 1582.5 231.7 1587.5 232.7 1592.5 233.3 1597.5 234.9 1602.5 236.1 1607.5 237.2 1612.5 238.6 1617.5 238.7 1622.5 239.4 1627.5 239.5 1632.5 238.7 1637.5 237.4 1642.5 235.7 1647.5 234.6 1652.5 233 1657.5 231.2 1662.5 231.1 1667.5 230 1672.5 230.9 1677.5 231.8 1682.5 232.7 1687.5 232.4 1692.5 232.1 1697.5 231.5 1702.5 230.9 1707.5 230.1 1712.5 229.9 1717.5 229.9 1722.5 229.8 1727.5 228.4 1732.5 226.5 1737.5 225.1" stroke="#cfd2e4" stroke-width="1.1" fill="none" stroke-linejoin="round" />
<path d="M2.5 433 10 434.7 21.7 440 43 440 50 438 55 438.7 62 446 72 460 81.7 472.5 87.5 480 93.3 486.7 97.5 490.8 102.5 496.2 107.5 501.7 112.5 506 117.5 507.8 122.5 509 127.5 509.7 132.5 510 137.5 510 142.5 509.6 147.5 510.3 152.5 509.4 157.5 506.3 162.5 500.3 167.5 494.8 172.5 488.4 177.5 483.9 182.5 474.3 187.5 458.7 192.5 444.3 197.5 420.5 202.5 421.1 207.5 420.4 212.5 421.2 217.5 422.5 222.5 425.6 227.5 430.9 232.5 434.1 237.5 444.2 242.5 452.9 247.5 457 252.5 458.6 257.5 462.3 262.5 466.4 267.5 471.3 272.5 476.9 277.5 480.6 282.5 483.6 287.5 486.9 292.5 486.6 297.5 484.9 302.5 482.1 307.5 480.9 312.5 477.7 317.5 474.2 322.5 473.3 327.5 474.9 332.5 473.7 337.5 473.7 342.5 473.7 347.5 473.4 352.5 472.6 357.5 471.8 362.5 470.7 367.5 469.9 372.5 471.5 377.5 471.8 382.5 472.3 387.5 472.9 392.5 473.5 397.5 476 402.5 484.5 407.5 489.3 412.5 496.6 417.5 517.1 422.5 530.5 427.5 543.8 432.5 551.3 437.5 558.1 442.5 564.6 447.5 568.7 452.5 571.1 457.5 569.4 462.5 567.7 467.5 565.6 472.5 564.2 477.5 562 482.5 560.1 487.5 558.3 492.5 556.4 497.5 556.1 502.5 557.1 507.5 558.9 512.5 559 517.5 551.6 522.5 545 527.5 538.1 532.5 533.1 537.5 529.2 542.5 520.8 547.5 510.7 552.5 506.6 557.5 504.1 562.5 502.6 567.5 499.2 572.5 496.9 577.5 493.1 582.5 491.3 587.5 487.8 592.5 487.4 597.5 493.4 602.5 495.5 607.5 498.2 612.5 499.6 617.5 496.7 622.5 492.1 627.5 487.3 632.5 486.3 637.5 485.5 642.5 484.8 647.5 483.9 652.5 482.7 657.5 481.4 662.5 482.6 667.5 480.5 672.5 478.9 677.5 477.3 682.5 471.4 687.5 464.3 692.5 460.9 697.5 460.8 702.5 460.9 707.5 460.6 712.5 461.8 717.5 462.6 722.5 458.5 727.5 452.7 732.5 447.9 737.5 445.2 742.5 442.5 747.5 438.6 752.5 435.3 757.5 432.5 762.5 433.3 767.5 433.3 772.5 433.7 777.5 436.4 782.5 437.2 787.5 434 792.5 431.2 797.5 427.5 802.5 425.6 807.5 423.2 812.5 421.7 817.5 420.4 822.5 418.1 827.5 410.4 832.5 404.1 837.5 400.7 842.5 404.4 847.5 407.7 852.5 407.8 857.5 408.2 862.5 408.7 867.5 409.8 872.5 411 877.5 409.4 882.5 408.9 887.5 409.2 892.5 408.7 897.5 407.4 902.5 405.9 907.5 405.3 912.5 405.7 917.5 407 922.5 408.4 927.5 408.5 932.5 408.6 937.5 406.4 942.5 405.6 947.5 405.4 952.5 405.7 957.5 408.9 962.5 411.6 967.5 414.5 972.5 412.3 977.5 410 982.5 410.3 987.5 407.8 992.5 404.5 997.5 399.6 1002.5 393.7 1007.5 386.8 1012.5 381.8 1017.5 378.6 1022.5 375.6 1027.5 369.3 1032.5 362.2 1037.5 354.3 1042.5 350.4 1047.5 347.7 1052.5 345.6 1057.5 345.7 1062.5 345.6 1067.5 345.6 1072.5 345.9 1077.5 347 1082.5 349.2 1087.5 350.7 1092.5 354 1097.5 358.5 1102.5 355.4 1107.5 352.7 1112.5 345.4 1117.5 335 1122.5 326.9 1127.5 323.4 1132.5 320.9 1137.5 318.1 1142.5 315.4 1147.5 311.7 1152.5 308 1157.5 307.2 1162.5 307.6 1167.5 308.8 1172.5 311.8 1177.5 311 1182.5 311 1187.5 310.3 1192.5 313.1 1197.5 312.4 1202.5 309 1207.5 307.5 1212.5 303.1 1217.5 297 1222.5 290.2 1227.5 282.9 1232.5 274.1 1237.5 265.6 1242.5 256.3 1247.5 246.3 1252.5 235.3 1257.5 222.1 1262.5 217.2 1267.5 214.3 1272.5 215 1277.5 214 1282.5 220.5 1287.5 230.4 1292.5 240.9 1297.5 252.9 1302.5 256.2 1307.5 263 1312.5 268.7 1317.5 276.4 1322.5 283.3 1327.5 290.2 1332.5 289.1 1337.5 283.4 1342.5 279.5 1347.5 275.9 1352.5 273 1357.5 269.8 1362.5 269.8 1367.5 264.6 1372.5 266.6 1377.5 268.8 1382.5 271 1387.5 269.1 1392.5 265.7 1397.5 260.2 1402.5 257.8 1407.5 250.5 1412.5 247.7 1417.5 240.2 1422.5 230.7 1427.5 216.9 1432.5 208.4 1437.5 204.4 1442.5 204.3 1447.5 200.8 1452.5 196.9 1457.5 192.6 1462.5 192.3 1467.5 191.2 1472.5 191.6 1477.5 191.4 1482.5 196.5 1487.5 205.1 1492.5 213.7 1497.5 217.3 1502.5 222.6 1507.5 231.1 1512.5 234.7 1517.5 238.3 1522.5 238.6 1527.5 244.5 1532.5 254.6 1537.5 262.2 1542.5 269.8 1547.5 277.8 1552.5 285.9 1557.5 294 1562.5 295.3 1567.5 295.5 1572.5 287.1 1577.5 279.1 1582.5 278.2 1587.5 278.1 1592.5 278.3 1597.5 278.2 1602.5 278.1 1607.5 278.8 1612.5 277.4 1617.5 276.7 1622.5 275.1 1627.5 274.7 1632.5 274.4 1637.5 273.8 1642.5 271.9 1647.5 268.4 1652.5 263.3 1657.5 254.5 1662.5 252.1 1667.5 251.6 1672.5 253.7 1677.5 255.4 1682.5 255.3 1687.5 255.3 1692.5 255.1 1697.5 254.4 1702.5 253.9 1707.5 252.8 1712.5 252.6 1717.5 252.7 1722.5 253.8 1727.5 256.4 1732.5 259.9 1737.5 262.2" stroke="#d94fc2" stroke-width="1.1" fill="none" stroke-linejoin="round" />
<path d="M2.5 414.9 7.5 414.6 12.5 413.9 17.5 413.7 22.5 412.9 27.5 410.5 32.5 407.8 37.5 408 42.5 406.7 47.5 405.1 52.5 406.1 57.5 410.1 62.5 419.2 67.5 427.2 72.5 435.6 77.5 442.7 82.5 453 87.5 460.5 92.5 464.1 97.5 465.4 102.5 451.8 107.5 435.9 112.5 420.4 117.5 405.8 122.5 391.7 127.5 380.7 132.5 369.1 137.5 373.9 142.5 380.2 147.5 389.4 152.5 395.3 157.5 399.6 162.5 398 167.5 395.9 172.5 392.7 177.5 383.1 182.5 372.3 187.5 364.9 192.5 357.2 197.5 355.9 202.5 353.5 207.5 351.4 212.5 358.8 217.5 365.9 222.5 372.1 227.5 382.6 232.5 389 237.5 402.7 242.5 415 247.5 422.4 252.5 426.9 257.5 430.9 262.5 431.5 267.5 434.6 272.5 433.1 277.5 433.6 282.5 436.3 287.5 441.4 292.5 444.6 297.5 446.3 302.5 449.4 307.5 454.5 312.5 453 317.5 450.3 322.5 450.2 327.5 451.6 332.5 453.5 337.5 453.9 342.5 450.5 347.5 450.7 352.5 453.6 357.5 451 362.5 449.3 367.5 448.3 372.5 449.6 377.5 449.5 382.5 451.8 387.5 453 392.5 455.8 397.5 458.4 402.5 466.2 407.5 470.5 412.5 477 417.5 489.7 422.5 500.6 427.5 513 432.5 522.1 437.5 526.8 442.5 532.9 447.5 537.3 452.5 531.5 457.5 525.4 462.5 517.1 467.5 512.6 472.5 506 477.5 500.1 482.5 493.4 487.5 490.4 492.5 487.1 497.5 485 502.5 481.5 507.5 477.6 512.5 474.2 517.5 474.3 522.5 473.8 527.5 476 532.5 473.9 537.5 470.8 542.5 469.3 547.5 467.2 552.5 462.9 557.5 459.1 562.5 453.8 567.5 454.3 572.5 454.1 577.5 456.1 582.5 458.1 587.5 459.6 592.5 459.1 597.5 452.9 602.5 446.5 607.5 440.8 612.5 432.9 617.5 424.8 622.5 422.9 627.5 423.7 632.5 429.4 637.5 431.9 642.5 436.6 647.5 442.6 652.5 445.8 657.5 442.9 662.5 433.7 667.5 427.6 672.5 423 677.5 416.9 682.5 410.6 687.5 409 692.5 406.6 697.5 410.1 702.5 410.6 707.5 412 712.5 411 717.5 409.4 722.5 406 727.5 407.8 732.5 407.2 737.5 407.2 742.5 401.9 747.5 398.7 752.5 397.7 757.5 395.2 762.5 388.4 767.5 383.6 772.5 378.9 777.5 375.2 782.5 374.1 787.5 372.1 792.5 370.4 797.5 368.6 802.5 371.1 807.5 373.6 812.5 377.8 817.5 379.2 822.5 380.1 827.5 381.5 832.5 384.4 837.5 384 842.5 384.7 847.5 388 852.5 390 857.5 391.5 862.5 392.4 867.5 393.5 872.5 393.1 877.5 391.9 882.5 386.8 887.5 383.7 892.5 381.2 897.5 379.4 902.5 377.4 907.5 376.3 912.5 373.1 917.5 372.1 922.5 370.6 927.5 369.8 932.5 368.1 937.5 366.5 942.5 360.3 947.5 354.9 952.5 351.1 957.5 344.8 962.5 336.3 967.5 325.8 972.5 315.6 977.5 308.3 982.5 302.4 987.5 297.9 992.5 295.8 997.5 296.6 1002.5 302.4 1007.5 309.2 1012.5 315.8 1017.5 324 1022.5 328.4 1027.5 330.1 1032.5 328 1037.5 323.9 1042.5 317.6 1047.5 312.9 1052.5 306.5 1057.5 299.3 1062.5 297.8 1067.5 298.4 1072.5 296.5 1077.5 293.4 1082.5 287.7 1087.5 283.5 1092.5 279.9 1097.5 270.8 1102.5 265.3 1107.5 256.7 1112.5 254.2 1117.5 254.9 1122.5 257.1 1127.5 260.3 1132.5 266.6 1137.5 267.1 1142.5 269.6 1147.5 267 1152.5 263.6 1157.5 256.8 1162.5 246.2 1167.5 233.8 1172.5 220.7 1177.5 213.9 1182.5 205.8 1187.5 196.7 1192.5 185.5 1197.5 180.7 1202.5 182 1207.5 184.2 1212.5 182.8 1217.5 181.2 1222.5 174.3 1227.5 170 1232.5 162.8 1237.5 150.1 1242.5 143.3 1247.5 137.3 1252.5 135 1257.5 137.9 1262.5 144.1 1267.5 147.9 1272.5 158 1277.5 164.8 1282.5 175.7 1287.5 186.3 1292.5 197.4 1297.5 207.6 1302.5 218.3 1307.5 226.6 1312.5 232 1317.5 234.2 1322.5 235.1 1327.5 237.7 1332.5 234.5 1337.5 232.5 1342.5 225.5 1347.5 221.8 1352.5 216.2 1357.5 210.6 1362.5 199.2 1367.5 192.7 1372.5 186.8 1377.5 183.6 1382.5 177.3 1387.5 174.2 1392.5 169.7 1397.5 170.7 1402.5 169.4 1407.5 171.3 1412.5 170.2 1417.5 170.2 1422.5 172 1427.5 174.4 1432.5 173.2 1437.5 171.2 1442.5 166.2 1447.5 164 1452.5 163.4 1457.5 159 1462.5 153.8 1467.5 152.7 1472.5 150.4 1477.5 151.6 1482.5 158.5 1487.5 166.7 1492.5 175.5 1497.5 183.9 1502.5 190.7 1507.5 203 1512.5 210.4 1517.5 212.4 1522.5 210.6 1527.5 211.5 1532.5 216.1 1537.5 220.8 1542.5 224.8 1547.5 233.2 1552.5 241.3 1557.5 253 1562.5 256.9 1567.5 258.3 1572.5 256.5 1577.5 253.6 1582.5 246.9 1587.5 241.6 1592.5 235.1 1597.5 233 1602.5 230.7 1607.5 232.7 1612.5 232.7 1617.5 232 1622.5 229.4 1627.5 228.7 1632.5 226.7 1637.5 224.3 1642.5 220.8 1647.5 221.6 1652.5 225.2 1657.5 229.5 1662.5 232.7 1667.5 233.2 1672.5 237.7 1677.5 242.1 1682.5 241.5 1687.5 239.7 1692.5 237.5 1697.5 234 1702.5 233.2 1707.5 230.4 1712.5 227.3 1717.5 224.1 1722.5 222.2 1727.5 218.2 1732.5 212.6 1737.5 208" stroke="#cfd2e4" stroke-width="1.1" fill="none" stroke-linejoin="round" />
<path d="M2.5 396.2 7.5 398.9 12.5 401.4 17.5 404.2 22.5 406.7 27.5 408.4 32.5 410 37.5 411.5 42.5 410.7 47.5 409.5 52.5 409.9 57.5 411.5 62.5 414.9 67.5 417.4 72.5 421.7 77.5 424.5 82.5 428.7 87.5 432.8 92.5 436.6 97.5 442 102.5 439.4 107.5 435.8 112.5 431.5 117.5 429.1 122.5 425.3 127.5 421.2 132.5 415.6 137.5 411.8 142.5 407.5 147.5 404.7 152.5 400.5 157.5 395.6 162.5 389.3 167.5 382.4 172.5 383.2 177.5 381.6 182.5 380.8 187.5 379.9 192.5 378.1 197.5 376.7 202.5 374.4 207.5 371.7 212.5 370.8 217.5 369.1 222.5 368.5 227.5 369.8 232.5 372.3 237.5 377.7 242.5 382.5 247.5 389.9 252.5 395.8 257.5 400.9 262.5 406.6 267.5 411.4 272.5 417.7 277.5 424.2 282.5 429.3 287.5 434.1 292.5 437.7 297.5 438.9 302.5 442 307.5 443.7 312.5 443.3 317.5 443.3 322.5 445.8 327.5 448.1 332.5 449.9 337.5 451.7 342.5 452.5 347.5 451.9 352.5 451.9 357.5 450.6 362.5 450.5 367.5 450.9 372.5 451.7 377.5 450 382.5 451.2 387.5 453.3 392.5 453.4 397.5 453.9 402.5 457.2 407.5 460 412.5 463.1 417.5 470.5 422.5 476.4 427.5 483.8 432.5 489.5 437.5 495.9 442.5 501 447.5 506.5 452.5 510.3 457.5 512.9 462.5 515.1 467.5 517.3 472.5 516.3 477.5 516.3 482.5 515 487.5 510.7 492.5 506 497.5 500.9 502.5 496.9 507.5 491.7 512.5 487 517.5 483.8 522.5 482.1 527.5 481.5 532.5 479.5 537.5 476.1 542.5 473.5 547.5 470.7 552.5 468.6 557.5 466.4 562.5 464.8 567.5 464.1 572.5 462.4 577.5 462.7 582.5 462.6 587.5 461.3 592.5 459.1 597.5 453.3 602.5 450.4 607.5 447.4 612.5 444.4 617.5 441.3 622.5 441 627.5 441.2 632.5 441 637.5 439.2 642.5 438.7 647.5 437.8 652.5 435.2 657.5 432.8 662.5 428.7 667.5 428.5 672.5 427.4 677.5 426.7 682.5 426.5 687.5 427.2 692.5 424.5 697.5 421.8 702.5 419 707.5 417.5 712.5 414 717.5 410 722.5 407.5 727.5 407.2 732.5 408.7 737.5 408.9 742.5 407 747.5 404.8 752.5 403.5 757.5 400.6 762.5 398 767.5 395.3 772.5 392.9 777.5 388.4 782.5 386.3 787.5 384.8 792.5 382.7 797.5 378.4 802.5 377.3 807.5 376.2 812.5 376.5 817.5 376.6 822.5 376.1 827.5 375.9 832.5 376.5 837.5 377.5 842.5 379.1 847.5 382.9 852.5 384.6 857.5 385.7 862.5 387 867.5 389 872.5 388.5 877.5 388.3 882.5 387.4 887.5 386.9 892.5 386.3 897.5 385.9 902.5 385.4 907.5 384.6 912.5 382.4 917.5 379.4 922.5 377.1 927.5 375.5 932.5 373.7 937.5 372 942.5 368.2 947.5 363.9 952.5 361.6 957.5 357.6 962.5 352.9 967.5 346.6 972.5 340.6 977.5 333.8 982.5 328.2 987.5 324 992.5 319.9 997.5 316.2 1002.5 314 1007.5 312.4 1012.5 312.1 1017.5 313.1 1022.5 313 1027.5 312.7 1032.5 312.1 1037.5 313 1042.5 313.4 1047.5 314.4 1052.5 315.2 1057.5 313.7 1062.5 313.7 1067.5 313 1072.5 310.1 1077.5 305.4 1082.5 300.2 1087.5 294.9 1092.5 289.5 1097.5 284.1 1102.5 281.6 1107.5 276.3 1112.5 273.6 1117.5 271.1 1122.5 270.2 1127.5 270 1132.5 268.7 1137.5 266.2 1142.5 263.1 1147.5 260.6 1152.5 259.3 1157.5 257 1162.5 253.2 1167.5 250 1172.5 243.5 1177.5 241.2 1182.5 235.7 1187.5 229.4 1192.5 220.3 1197.5 212.7 1202.5 207.4 1207.5 202.2 1212.5 198.2 1217.5 193.4 1222.5 185.4 1227.5 177.7 1232.5 171.7 1237.5 165.9 1242.5 163.5 1247.5 159.6 1252.5 157.7 1257.5 155.9 1262.5 157 1267.5 155.3 1272.5 154 1277.5 154 1282.5 156.2 1287.5 160.2 1292.5 167 1297.5 175.1 1302.5 182.2 1307.5 191.5 1312.5 197.6 1317.5 204.4 1322.5 210.3 1327.5 217.3 1332.5 220.9 1337.5 225.3 1342.5 226.1 1347.5 226.9 1352.5 225.1 1357.5 222.8 1362.5 218.2 1367.5 213.3 1372.5 209.3 1377.5 204.3 1382.5 199.2 1387.5 194.9 1392.5 189.9 1397.5 184.8 1402.5 181 1407.5 179 1412.5 176.9 1417.5 173.8 1422.5 173.1 1427.5 172.1 1432.5 171.9 1437.5 170.3 1442.5 168.8 1447.5 167.1 1452.5 166.8 1457.5 165.5 1462.5 164 1467.5 162.9 1472.5 160.7 1477.5 158.9 1482.5 161.2 1487.5 165 1492.5 167.2 1497.5 168.7 1502.5 171.5 1507.5 176.2 1512.5 180.4 1517.5 185 1522.5 188.3 1527.5 193.3 1532.5 199.8 1537.5 205.6 1542.5 213.8 1547.5 221.7 1552.5 226.7 1557.5 231.5 1562.5 233.9 1567.5 236.9 1572.5 238.4 1577.5 239.1 1582.5 240 1587.5 241.5 1592.5 244 1597.5 244.8 1602.5 244.4 1607.5 244.5 1612.5 243.1 1617.5 239.4 1622.5 235.5 1627.5 231.9 1632.5 229.8 1637.5 227.5 1642.5 226.7 1647.5 227.2 1652.5 228.6 1657.5 229.5 1662.5 230.7 1667.5 229.9 1672.5 231 1677.5 231.4 1682.5 231.5 1687.5 232.4 1692.5 233.5 1697.5 233.3 1702.5 233.2 1707.5 234 1712.5 234.7 1717.5 232.8 1722.5 230.9 1727.5 227.8 1732.5 223.2 1737.5 220.5" stroke="#e6d927" stroke-width="1.1" fill="none" stroke-linejoin="round" />
<path d="M2.5 393.8 7.5 395.1 12.5 396.2 17.5 397.5 22.5 398.6 27.5 399.2 32.5 399.7 37.5 400.1 42.5 401.5 47.5 402.7 52.5 404.8 57.5 407.9 62.5 412 67.5 415.7 72.5 419.4 77.5 421.2 82.5 423.7 87.5 426.4 92.5 428.6 97.5 431.3 102.5 428.7 107.5 426.4 112.5 423.1 117.5 421 122.5 418.8 127.5 417.5 132.5 416.8 137.5 416.9 142.5 416.8 147.5 417.2 152.5 417.6 157.5 416.6 162.5 413.4 167.5 409 172.5 405.4 177.5 399.3 182.5 393.8 187.5 388.5 192.5 382.6 197.5 378 202.5 372.6 207.5 372.5 212.5 374 217.5 375.8 222.5 377.3 227.5 379.6 232.5 380.7 237.5 383.7 242.5 385.9 247.5 387.6 252.5 387.9 257.5 388.7 262.5 389.8 267.5 392.4 272.5 395.7 277.5 399.1 282.5 405 287.5 410.7 292.5 415.2 297.5 419.6 302.5 423.9 307.5 429.8 312.5 433.7 317.5 436.2 322.5 439.4 327.5 442.3 332.5 443.7 337.5 445.9 342.5 446 347.5 445.7 352.5 446.7 357.5 447.5 362.5 448.5 367.5 449.4 372.5 451 377.5 451.5 382.5 451.8 387.5 452.3 392.5 452.3 397.5 453.1 402.5 456 407.5 457.9 412.5 458.9 417.5 463.8 422.5 468.7 427.5 472.7 432.5 475.9 437.5 479.7 442.5 483.5 447.5 487 452.5 490.2 457.5 492.4 462.5 494.8 467.5 497.2 472.5 499.2 477.5 500.7 482.5 502.1 487.5 503.6 492.5 504.2 497.5 504.9 502.5 505.2 507.5 503.2 512.5 502 517.5 501.2 522.5 498.2 527.5 495.9 532.5 491.8 537.5 488.1 542.5 484.2 547.5 480.3 552.5 476.8 557.5 474.3 562.5 472.2 567.5 471 572.5 468.7 577.5 467.6 582.5 466.5 587.5 465.6 592.5 464 597.5 460.8 602.5 458.2 607.5 455.1 612.5 452.6 617.5 449.8 622.5 448.3 627.5 447.1 632.5 445.3 637.5 444.2 642.5 443.8 647.5 443.8 652.5 442.8 657.5 441.7 662.5 438.7 667.5 436.5 672.5 433.7 677.5 431.4 682.5 428.6 687.5 426.4 692.5 424 697.5 422.4 702.5 422.5 707.5 422.2 712.5 421.4 717.5 420.7 722.5 420.1 727.5 418.9 732.5 416.9 737.5 415.1 742.5 412.3 747.5 408.8 752.5 405.9 757.5 403.4 762.5 400.9 767.5 400.2 772.5 398.8 777.5 396.2 782.5 394.4 787.5 392.9 792.5 390.4 797.5 388.1 802.5 387.1 807.5 386.4 812.5 384.9 817.5 383.9 822.5 383.2 827.5 382.3 832.5 380.4 837.5 379.6 842.5 379.1 847.5 380.3 852.5 381.1 857.5 381.2 862.5 381.4 867.5 382.1 872.5 382.7 877.5 383.4 882.5 384.2 887.5 384.3 892.5 384.2 897.5 384.4 902.5 385.1 907.5 384.4 912.5 383.2 917.5 382.3 922.5 381.4 927.5 380.8 932.5 379.9 937.5 379.1 942.5 376.4 947.5 373.1 952.5 369.9 957.5 366.2 962.5 362.2 967.5 357.4 972.5 352.7 977.5 347.7 982.5 342.8 987.5 339.7 992.5 336.4 997.5 333.6 1002.5 331.6 1007.5 330 1012.5 327.8 1017.5 326.8 1022.5 325.5 1027.5 323.3 1032.5 320.1 1037.5 317.3 1042.5 314.1 1047.5 312.4 1052.5 310.9 1057.5 308.4 1062.5 307.7 1067.5 307.5 1072.5 307.5 1077.5 306.7 1082.5 305.4 1087.5 304.5 1092.5 302.2 1097.5 299.1 1102.5 296.7 1107.5 291.8 1112.5 287.9 1117.5 284.8 1122.5 282.1 1127.5 279.7 1132.5 278.3 1137.5 276.8 1142.5 274.1 1147.5 271.4 1152.5 268.6 1157.5 265.7 1162.5 262 1167.5 256.9 1172.5 250.7 1177.5 246.3 1182.5 241.9 1187.5 237.8 1192.5 232.4 1197.5 228.2 1202.5 226.6 1207.5 223.2 1212.5 221.2 1217.5 217.1 1222.5 210.6 1227.5 203.1 1232.5 195.7 1237.5 187.8 1242.5 182 1247.5 177.3 1252.5 173.4 1257.5 169.2 1262.5 166.4 1267.5 163.7 1272.5 163.2 1277.5 163.9 1282.5 165 1287.5 167.1 1292.5 169.5 1297.5 173.4 1302.5 175.7 1307.5 177.4 1312.5 179.1 1317.5 181.3 1322.5 184.3 1327.5 189.8 1332.5 194.4 1337.5 198.6 1342.5 202.7 1347.5 205.6 1352.5 208.3 1357.5 210.4 1362.5 211.2 1367.5 211.4 1372.5 212.3 1377.5 211.7 1382.5 210 1387.5 207.7 1392.5 204.6 1397.5 202 1402.5 198.4 1407.5 196.4 1412.5 192.7 1417.5 189.4 1422.5 187.2 1427.5 184.7 1432.5 180.9 1437.5 177.7 1442.5 174.7 1447.5 172.6 1452.5 170.3 1457.5 168.4 1462.5 165.9 1467.5 165.5 1472.5 163.6 1477.5 163 1482.5 164.2 1487.5 166.8 1492.5 168.8 1497.5 170.6 1502.5 172 1507.5 174.5 1512.5 175.6 1517.5 177.9 1522.5 179.9 1527.5 181.7 1532.5 184.2 1537.5 187.5 1542.5 192 1547.5 197.6 1552.5 203.3 1557.5 209.2 1562.5 213.9 1567.5 218.8 1572.5 222.2 1577.5 226.8 1582.5 230 1587.5 231.7 1592.5 232.7 1597.5 233.6 1602.5 234.8 1607.5 236.5 1612.5 237 1617.5 237.3 1622.5 237.4 1627.5 238.9 1632.5 238.7 1637.5 237.6 1642.5 236.5 1647.5 235.9 1652.5 234.7 1657.5 233.5 1662.5 232.1 1667.5 230.9 1672.5 230.9 1677.5 231.8 1682.5 231.9 1687.5 232.3 1692.5 232.1 1697.5 231.8 1702.5 231 1707.5 230.8 1712.5 230 1717.5 229 1722.5 229 1727.5 228.4 1732.5 226.4 1737.5 224.7" stroke="#d94fc2" stroke-width="1.1" fill="none" stroke-linejoin="round" />
<path d="M2.5 409.5 16.7 405 33.3 400.8 50 399.7 66.7 400.3 83.3 403.7 97.5 407.5 108.3 407.5 123.3 406.3 141.7 406.7 158.3 406.7 175 403 191.7 399 208.3 397 221.7 397 236.7 400 250 403.7 266.7 406.7 283.3 408 297.5 408.3 302.5 408.8 307.5 409.8 312.5 410.6 317.5 411.2 322.5 412.1 327.5 413.1 332.5 414 337.5 415 342.5 415.7 347.5 416.4 352.5 416.9 357.5 416.9 362.5 416.6 367.5 416.4 372.5 416.5 377.5 416.5 382.5 416.3 387.5 416.1 392.5 416 397.5 415.8 402.5 418 407.5 420.4 412.5 422.9 417.5 425.7 422.5 428.4 427.5 430.9 432.5 433.2 437.5 435.3 442.5 437.6 447.5 439.4 452.5 441 457.5 442.6 462.5 444.4 467.5 446.6 472.5 448.4 477.5 451.3 482.5 453.8 487.5 456.1 492.5 458.3 497.5 460.2 502.5 462.3 507.5 464 512.5 465.6 517.5 467.2 522.5 468.6 527.5 469.8 532.5 470.6 537.5 470.6 542.5 470.6 547.5 471 552.5 471.5 557.5 472 562.5 472.5 567.5 473 572.5 473.1 577.5 473.3 582.5 473.6 587.5 473.7 592.5 473.8 597.5 473.3 602.5 472.7 607.5 471.5 612.5 470.9 617.5 470.5 622.5 470.4 627.5 470.4 632.5 470.3 637.5 470 642.5 469.8 647.5 469.9 652.5 469.5 657.5 469.4 662.5 468.5 667.5 467.8 672.5 466.7 677.5 465.8 682.5 464.8 687.5 464.1 692.5 463.4 697.5 462.6 702.5 461.1 707.5 459.7 712.5 457.9 717.5 455.3 722.5 453 727.5 451.1 732.5 449.3 737.5 447.4 742.5 444.7 747.5 442.1 752.5 440.1 757.5 438.1 762.5 436.3 767.5 434.4 772.5 432.6 777.5 430.1 782.5 428.1 787.5 426.2 792.5 424.5 797.5 422.6 802.5 421.5 807.5 420.4 812.5 418.9 817.5 417.1 822.5 415.4 827.5 413.6 832.5 412.3 837.5 411.5 842.5 410.7 847.5 409.8 852.5 408.8 857.5 407.6 862.5 406.5 867.5 405.4 872.5 404.5 877.5 403.4 882.5 401.7 887.5 400.1 892.5 398.7 897.5 398.1 902.5 397.4 907.5 397.1 912.5 396.4 917.5 395.5 922.5 394 927.5 392.4 932.5 391 937.5 389.9 942.5 388.2 947.5 386.3 952.5 384.6 957.5 382.6 962.5 381.1 967.5 379 972.5 377.1 977.5 375.2 982.5 373.2 987.5 371.2 992.5 369.2 997.5 367.4 1002.5 366.1 1007.5 364.9 1012.5 364 1017.5 363.2 1022.5 362.1 1027.5 360.2 1032.5 358.2 1037.5 356.4 1042.5 355.1 1047.5 353.9 1052.5 352.5 1057.5 350.8 1062.5 349.5 1067.5 348.1 1072.5 346.6 1077.5 345.3 1082.5 343.6 1087.5 341.9 1092.5 339.9 1097.5 337.7 1102.5 335.3 1107.5 332.5 1112.5 330.4 1117.5 328.7 1122.5 327.2 1127.5 325.5 1132.5 323.8 1137.5 321.6 1142.5 319.1 1147.5 316.4 1152.5 314 1157.5 311.6 1162.5 308.5 1167.5 305.1 1172.5 301.3 1177.5 298.1 1182.5 294.9 1187.5 291.8 1192.5 288.1 1197.5 284.7 1202.5 281.8 1207.5 278.6 1212.5 275.5 1217.5 272.4 1222.5 268.6 1227.5 264.5 1232.5 260.4 1237.5 256.1 1242.5 252.7 1247.5 249.5 1252.5 246.5 1257.5 243.8 1262.5 241.7 1267.5 239.2 1272.5 237.4 1277.5 235.7 1282.5 234.6 1287.5 233.5 1292.5 232.5 1297.5 231.5 1302.5 229.8 1307.5 228.2 1312.5 226.5 1317.5 224.8 1322.5 223.4 1327.5 222.5 1332.5 221.4 1337.5 219.9 1342.5 218.2 1347.5 216.5 1352.5 214.9 1357.5 213.5 1362.5 211.5 1367.5 209.5 1372.5 207.5 1377.5 205.8 1382.5 204 1387.5 202.4 1392.5 201 1397.5 200 1402.5 198.5 1407.5 197.7 1412.5 196.1 1417.5 194.3 1422.5 192.7 1427.5 191.2 1432.5 189.5 1437.5 187.7 1442.5 186.1 1447.5 184.5 1452.5 183 1457.5 181.6 1462.5 180.7 1467.5 180.2 1472.5 179.6 1477.5 178.8 1482.5 179 1487.5 179.5 1492.5 180.5 1497.5 181 1502.5 181.2 1507.5 181.7 1512.5 182 1517.5 182.6 1522.5 183.7 1527.5 185.3 1532.5 187.2 1537.5 189.4 1542.5 191.3 1547.5 193.2 1552.5 195 1557.5 197 1562.5 198.3 1567.5 199.9 1572.5 200.7 1577.5 201.4 1582.5 201.4 1587.5 201.3 1592.5 201.3 1597.5 201.2 1602.5 201.3 1607.5 201.4 1612.5 201.5 1617.5 201.1 1622.5 200.7 1627.5 200.3 1632.5 200.3 1637.5 200.4 1642.5 200.9 1647.5 201.5 1652.5 202.1 1657.5 202.8 1662.5 204.1 1667.5 204.9 1672.5 206.3 1677.5 207.6 1682.5 208.9 1687.5 209.8 1692.5 210.8 1697.5 211.6 1702.5 212.5 1707.5 213.3 1712.5 214.4 1717.5 215.4 1722.5 215.8 1727.5 216 1732.5 216.3 1737.5 216.9" stroke="#30a3dd" stroke-width="1.1" fill="none" stroke-linejoin="round" />
<path d="M2.5 384.5 16.7 390 33.3 395.8 50 400 66.7 405.8 83.3 410.8 100 415.3 116.7 417.5 133.3 418.7 146.7 421.3 163.3 421.3 183.3 417.5 200 413.3 216.7 410.3 233.3 409 250 410 283 410 300 409.7 316.7 408 333.3 407.8 350 407.8 366.7 408 383.3 409.7 400 412 416.7 415.3 433.3 419.2 450 423.3 466.7 426.7 483.3 429.2 500 431.3 516.7 433.3 533.3 435.3 550 437.5 566.7 439.2 583.3 440 597.5 440.3 602.5 440.3 607.5 440.3 612.5 440.4 617.5 440.4 622.5 440.7 627.5 441.1 632.5 441.5 637.5 442 642.5 442.3 647.5 442.7 652.5 442.8 657.5 442.7 662.5 442.1 667.5 441.7 672.5 441.2 677.5 440.7 682.5 440.2 687.5 439.7 692.5 439.3 697.5 438.8 702.5 439.2 707.5 439.8 712.5 440.2 717.5 440.4 722.5 440.6 727.5 441 732.5 441.2 737.5 441.3 742.5 441.1 747.5 440.7 752.5 440.5 757.5 440.3 762.5 440.4 767.5 440.4 772.5 440.4 777.5 440.6 782.5 440.9 787.5 441 792.5 441.2 797.5 441.2 802.5 441.6 807.5 441.9 812.5 441.9 817.5 441.7 822.5 441.5 827.5 441.1 832.5 440.9 837.5 440.4 842.5 440 847.5 439.7 852.5 439.5 857.5 439.1 862.5 438.8 867.5 438.4 872.5 438 877.5 437.5 882.5 436.7 887.5 436 892.5 435.3 897.5 434.7 902.5 434.1 907.5 433.3 912.5 432.7 917.5 432 922.5 431.2 927.5 430.4 932.5 429.6 937.5 428.8 942.5 427.9 947.5 426.9 952.5 425.8 957.5 424.7 962.5 423.4 967.5 422 972.5 420.5 977.5 419.1 982.5 417.6 987.5 416.2 992.5 414.8 997.5 413.4 1002.5 412 1007.5 410.7 1012.5 409.4 1017.5 407.8 1022.5 406.1 1027.5 404.2 1032.5 402.3 1037.5 400.4 1042.5 398.5 1047.5 396.7 1052.5 394.9 1057.5 393.1 1062.5 391.6 1067.5 389.9 1072.5 388.3 1077.5 386.5 1082.5 384.6 1087.5 382.8 1092.5 381 1097.5 378.9 1102.5 377.1 1107.5 375.1 1112.5 373.3 1117.5 371.5 1122.5 369.9 1127.5 368.2 1132.5 366.7 1137.5 365.2 1142.5 363.4 1147.5 361.6 1152.5 359.8 1157.5 358 1162.5 355.9 1167.5 353.5 1172.5 351.1 1177.5 348.8 1182.5 346.3 1187.5 343.9 1192.5 341.3 1197.5 339.2 1202.5 337.3 1207.5 335.4 1212.5 333.4 1217.5 331.3 1222.5 328.5 1227.5 325.7 1232.5 322.8 1237.5 319.9 1242.5 317.3 1247.5 314.6 1252.5 312.2 1257.5 309.9 1262.5 308 1267.5 305.7 1272.5 303.9 1277.5 302.1 1282.5 300.6 1287.5 299.1 1292.5 297.6 1297.5 296.2 1302.5 294.7 1307.5 293.3 1312.5 292 1317.5 290.7 1322.5 289.4 1327.5 288.1 1332.5 286.5 1337.5 284.9 1342.5 283.4 1347.5 281.9 1352.5 280.4 1357.5 278.9 1362.5 277.2 1367.5 275.5 1372.5 273.7 1377.5 272.2 1382.5 270.4 1387.5 268.8 1392.5 267.1 1397.5 265.6 1402.5 263.7 1407.5 262 1412.5 260.2 1417.5 258.4 1422.5 256.8 1427.5 255.3 1432.5 253.5 1437.5 251.6 1442.5 249.5 1447.5 247.4 1452.5 245.5 1457.5 243.7 1462.5 241.7 1467.5 239.9 1472.5 237.9 1477.5 236 1482.5 234.6 1487.5 233.4 1492.5 232.3 1497.5 231 1502.5 229.7 1507.5 228.5 1512.5 227.2 1517.5 226.1 1522.5 224.9 1527.5 223.8 1532.5 222.9 1537.5 222 1542.5 221.3 1547.5 220.8 1552.5 220.3 1557.5 220 1562.5 219.6 1567.5 219.3 1572.5 218.8 1577.5 218.4 1582.5 217.8 1587.5 217.2 1592.5 216.7 1597.5 216.2 1602.5 215.4 1607.5 214.7 1612.5 213.9 1617.5 212.9 1622.5 211.9 1627.5 211.3 1632.5 210.7 1637.5 210.1 1642.5 209.5 1647.5 209 1652.5 208.5 1657.5 208.2 1662.5 207.8 1667.5 207.2 1672.5 206.9 1677.5 206.7 1682.5 206.5 1687.5 206.1 1692.5 205.9 1697.5 205.8 1702.5 205.5 1707.5 205.5 1712.5 205.2 1717.5 204.8 1722.5 204.2 1727.5 203.5 1732.5 202.8 1737.5 202.2" stroke="#a6d873" stroke-width="1.1" fill="none" stroke-linejoin="round" />
<path d="M436.7 375.8 450 379.2 466.7 382.5 483.3 386.3 500 389.7 516.7 393.3 533.3 397 550 400.3 566.7 404.2 583.3 408 600 411.3 612 414.2 613.3 414.2 630 417.5 646.7 420.8 663.3 423.7 680 425.8 696.7 427.5 713.3 429.2 730 430.3 746.7 431.3 763.3 430.8 780 429.5 796.7 428.3 813.3 426.7 830 425.3 846.7 424.7 863.3 424.2 880 424.2 896.7 422.5 913.3 420.3 930 418.3 946.7 416.7 963.3 414.7 980 413.3 996.7 412.5 1013.3 412 1030 411.3 1046.7 410 1063.3 408.3 1080 406.3 1096.7 403.7 1113.3 401.7 1130 400 1146.7 398 1163.3 396.3 1180 391.7 1192 389.2 1197.5 387 1202.5 385.3 1207.5 383.8 1212.5 382.5 1217.5 381.4 1222.5 380.6 1227.5 380 1232.5 379.2 1237.5 378.3 1242.5 377 1247.5 375.8 1252.5 374.5 1257.5 373.2 1262.5 371.9 1267.5 370.5 1272.5 369.3 1277.5 368.1 1282.5 367 1287.5 366 1292.5 365 1297.5 364 1302.5 363.3 1307.5 362.8 1312.5 362.3 1317.5 361.7 1322.5 361.1 1327.5 360.5 1332.5 359.7 1337.5 358.9 1342.5 357.9 1347.5 357 1352.5 356 1357.5 355.1 1362.5 354.1 1367.5 353.2 1372.5 352.3 1377.5 351.5 1382.5 350.6 1387.5 349.7 1392.5 348.9 1397.5 348 1402.5 347.2 1407.5 346.3 1412.5 345.3 1417.5 344.2 1422.5 343.3 1427.5 342.2 1432.5 341.1 1437.5 339.8 1442.5 338.5 1447.5 337.2 1452.5 336 1457.5 334.8 1462.5 333.5 1467.5 332.3 1472.5 331 1477.5 329.7 1482.5 328.6 1487.5 327.6 1492.5 326.7 1497.5 325.7 1502.5 324.7 1507.5 323.6 1512.5 322.6 1517.5 321.7 1522.5 320.6 1527.5 319.7 1532.5 318.8 1537.5 318 1542.5 317.2 1547.5 316.5 1552.5 315.7 1557.5 315.1 1562.5 314.3 1567.5 313.6 1572.5 312.6 1577.5 311.7 1582.5 310.8 1587.5 309.8 1592.5 309 1597.5 308 1602.5 307 1607.5 306.1 1612.5 305 1617.5 303.8 1622.5 302.5 1627.5 301.3 1632.5 300.2 1637.5 299 1642.5 297.8 1647.5 296.7 1652.5 295.7 1657.5 294.7 1662.5 293.8 1667.5 292.8 1672.5 291.9 1677.5 291 1682.5 290.1 1687.5 289 1692.5 288.1 1697.5 287.1 1702.5 286.2 1707.5 285.3 1712.5 284.4 1717.5 283.3 1722.5 282.3 1727.5 281.2 1732.5 280.1 1737.5 279.1" stroke="#ea9a9a" stroke-width="1.1" fill="none" stroke-linejoin="round" />
<path d="M36 674h3V675.5h-3ZM41 674.3h3V675.5h-3ZM46 673.7h3V675.5h-3ZM121 647.9h3V675.5h-3ZM126 652.5h3V675.5h-3ZM131 656.8h3V675.5h-3ZM136 662.6h3V675.5h-3ZM141 666.3h3V675.5h-3ZM146 672.2h3V675.5h-3ZM186 662.6h3V675.5h-3ZM191 663.4h3V675.5h-3ZM196 667.9h3V675.5h-3ZM201 669.7h3V675.5h-3ZM206 672.5h3V675.5h-3ZM316 673.7h3V675.5h-3ZM321 674h3V675.5h-3ZM326 674.5h3V675.5h-3ZM331 673.4h3V675.5h-3ZM351 670.6h3V675.5h-3ZM361 668.8h3V675.5h-3ZM371 671.3h3V675.5h-3ZM376 671.5h3V675.5h-3ZM381 672.4h3V675.5h-3ZM386 673.5h3V675.5h-3ZM391 673.4h3V675.5h-3ZM396 674.5h3V675.5h-3ZM476 662.1h3V675.5h-3ZM486 661.3h3V675.5h-3ZM501 660h3V675.5h-3ZM511 660.8h3V675.5h-3ZM516 664.3h3V675.5h-3ZM521 667.3h3V675.5h-3ZM526 670.3h3V675.5h-3ZM546 665.6h3V675.5h-3ZM551 666.3h3V675.5h-3ZM556 668h3V675.5h-3ZM561 668.8h3V675.5h-3ZM566 671.1h3V675.5h-3ZM576 673.4h3V675.5h-3ZM616 664.2h3V675.5h-3ZM621 671.3h3V675.5h-3ZM681 669.4h3V675.5h-3ZM686 673.3h3V675.5h-3ZM691 674.5h3V675.5h-3ZM711 674.5h3V675.5h-3ZM716 673.5h3V675.5h-3ZM721 674h3V675.5h-3ZM741 674.5h3V675.5h-3ZM751 671.4h3V675.5h-3ZM766 672.2h3V675.5h-3ZM771 672.6h3V675.5h-3ZM781 669.3h3V675.5h-3ZM786 671.5h3V675.5h-3ZM791 673.2h3V675.5h-3ZM796 673.6h3V675.5h-3ZM896 672.1h3V675.5h-3ZM901 673h3V675.5h-3ZM906 674.5h3V675.5h-3ZM911 674h3V675.5h-3ZM926 670.9h3V675.5h-3ZM931 671.2h3V675.5h-3ZM936 672.5h3V675.5h-3ZM971 655.7h3V675.5h-3ZM976 656.6h3V675.5h-3ZM981 658.3h3V675.5h-3ZM986 663h3V675.5h-3ZM991 666.1h3V675.5h-3ZM996 671.6h3V675.5h-3ZM1061 673.8h3V675.5h-3ZM1071 674.5h3V675.5h-3ZM1101 665.3h3V675.5h-3ZM1111 666.9h3V675.5h-3ZM1116 672.8h3V675.5h-3ZM1151 674.5h3V675.5h-3ZM1156 673.9h3V675.5h-3ZM1176 655.9h3V675.5h-3ZM1181 656.2h3V675.5h-3ZM1186 657.3h3V675.5h-3ZM1196 658h3V675.5h-3ZM1201 667.6h3V675.5h-3ZM1206 672.4h3V675.5h-3ZM1241 663.4h3V675.5h-3ZM1246 669.7h3V675.5h-3ZM1341 674.5h3V675.5h-3ZM1376 654.2h3V675.5h-3ZM1386 656.4h3V675.5h-3ZM1391 658.6h3V675.5h-3ZM1396 663.3h3V675.5h-3ZM1401 665.1h3V675.5h-3ZM1406 669.2h3V675.5h-3ZM1421 674h3V675.5h-3ZM1436 674h3V675.5h-3ZM1451 669h3V675.5h-3ZM1456 671h3V675.5h-3ZM1466 674.5h3V675.5h-3ZM1476 674.3h3V675.5h-3ZM1596 664.2h3V675.5h-3ZM1606 666.4h3V675.5h-3ZM1626 661.1h3V675.5h-3ZM1631 662.2h3V675.5h-3ZM1641 663h3V675.5h-3ZM1646 667.9h3V675.5h-3ZM1651 670.8h3V675.5h-3ZM1656 674h3V675.5h-3ZM1666 674.5h3V675.5h-3ZM1706 669h3V675.5h-3ZM1711 669.9h3V675.5h-3Z" fill="#10bf86"/><path d="M31 675.5h3V676.5h-3ZM51 675.5h3V676.8h-3ZM56 675.5h3V681.3h-3ZM61 675.5h3V687.5h-3ZM66 675.5h3V688.9h-3ZM71 675.5h3V689.3h-3ZM81 675.5h3V689.6h-3ZM86 675.5h3V689.7h-3ZM151 675.5h3V676.5h-3ZM156 675.5h3V676.5h-3ZM211 675.5h3V678.1h-3ZM216 675.5h3V682.9h-3ZM221 675.5h3V687.7h-3ZM226 675.5h3V693.4h-3ZM231 675.5h3V694.5h-3ZM236 675.5h3V700.8h-3ZM241 675.5h3V702.8h-3ZM276 675.5h3V687.6h-3ZM306 675.5h3V682.3h-3ZM401 675.5h3V679.7h-3ZM406 675.5h3V682h-3ZM411 675.5h3V683.3h-3ZM416 675.5h3V690.3h-3ZM421 675.5h3V692.3h-3ZM426 675.5h3V692.9h-3ZM451 675.5h3V677.1h-3ZM581 675.5h3V676.5h-3ZM586 675.5h3V677.1h-3ZM591 675.5h3V676.5h-3ZM626 675.5h3V677.7h-3ZM631 675.5h3V680.4h-3ZM641 675.5h3V680.7h-3ZM646 675.5h3V682h-3ZM696 675.5h3V676.9h-3ZM701 675.5h3V677h-3ZM706 675.5h3V677.5h-3ZM726 675.5h3V678.6h-3ZM731 675.5h3V680.3h-3ZM736 675.5h3V680.4h-3ZM801 675.5h3V680.3h-3ZM806 675.5h3V683.6h-3ZM826 675.5h3V681.5h-3ZM831 675.5h3V682.1h-3ZM836 675.5h3V684.6h-3ZM841 675.5h3V686.2h-3ZM846 675.5h3V687.3h-3ZM871 675.5h3V681.4h-3ZM881 675.5h3V676.5h-3ZM1001 675.5h3V678.9h-3ZM1006 675.5h3V686.1h-3ZM1011 675.5h3V689.6h-3ZM1016 675.5h3V693h-3ZM1041 675.5h3V676.5h-3ZM1046 675.5h3V676.5h-3ZM1051 675.5h3V676.5h-3ZM1066 675.5h3V676.5h-3ZM1121 675.5h3V680.5h-3ZM1126 675.5h3V684.1h-3ZM1131 675.5h3V686.1h-3ZM1146 675.5h3V676.5h-3ZM1211 675.5h3V676.5h-3ZM1216 675.5h3V676.5h-3ZM1251 675.5h3V677.8h-3ZM1256 675.5h3V683.2h-3ZM1261 675.5h3V691.5h-3ZM1271 675.5h3V697.8h-3ZM1276 675.5h3V703.2h-3ZM1281 675.5h3V712.4h-3ZM1286 675.5h3V719h-3ZM1291 675.5h3V721.7h-3ZM1296 675.5h3V724.1h-3ZM1426 675.5h3V677.9h-3ZM1431 675.5h3V677.2h-3ZM1481 675.5h3V685.2h-3ZM1486 675.5h3V694.9h-3ZM1491 675.5h3V701.9h-3ZM1496 675.5h3V702.3h-3ZM1506 675.5h3V703.4h-3ZM1526 675.5h3V691.8h-3ZM1531 675.5h3V694.1h-3ZM1536 675.5h3V695.1h-3ZM1541 675.5h3V696.4h-3ZM1546 675.5h3V697.8h-3ZM1551 675.5h3V698h-3ZM1556 675.5h3V698.8h-3ZM1661 675.5h3V677.3h-3ZM1671 675.5h3V677h-3ZM1676 675.5h3V678.8h-3ZM1681 675.5h3V676.6h-3Z" fill="#ee645f"/>
<path d="M101.5 668.8h2V675h-2ZM106.5 655.1h2V675h-2ZM111.5 647.3h2V675h-2ZM116.5 646.8h2V675h-2ZM161.5 673.3h2V675h-2ZM166.5 670.8h2V675h-2ZM171.5 670.5h2V675h-2ZM176.5 662.9h2V675h-2ZM181.5 660.5h2V675h-2ZM336.5 673.6h2V675h-2ZM341.5 673h2V675h-2ZM346.5 670.9h2V675h-2ZM356.5 668.9h2V675h-2ZM366.5 668.9h2V675h-2ZM456.5 672h2V675h-2ZM461.5 666.8h2V675h-2ZM466.5 665.1h2V675h-2ZM471.5 662.5h2V675h-2ZM481.5 661.2h2V675h-2ZM491.5 660.5h2V675h-2ZM496.5 660.1h2V675h-2ZM506.5 659.5h2V675h-2ZM531.5 668.4h2V675h-2ZM536.5 666.2h2V675h-2ZM541.5 665.1h2V675h-2ZM571.5 671.6h2V675h-2ZM596.5 669.8h2V675h-2ZM601.5 667.1h2V675h-2ZM606.5 664.8h2V675h-2ZM611.5 663.8h2V675h-2ZM661.5 673.1h2V675h-2ZM666.5 671.3h2V675h-2ZM671.5 670h2V675h-2ZM676.5 669.3h2V675h-2ZM746.5 671.6h2V675h-2ZM756.5 671.9h2V675h-2ZM761.5 671.5h2V675h-2ZM776.5 669.4h2V675h-2ZM886.5 673.5h2V675h-2ZM891.5 672.4h2V675h-2ZM916.5 672.5h2V675h-2ZM921.5 670.6h2V675h-2ZM941.5 670.2h2V675h-2ZM946.5 666.9h2V675h-2ZM951.5 666.1h2V675h-2ZM956.5 662.3h2V675h-2ZM961.5 659.7h2V675h-2ZM966.5 656.1h2V675h-2ZM1056.5 673.1h2V675h-2ZM1076.5 672.9h2V675h-2ZM1081.5 669.5h2V675h-2ZM1086.5 669.4h2V675h-2ZM1091.5 667.3h2V675h-2ZM1096.5 662.4h2V675h-2ZM1106.5 662.3h2V675h-2ZM1161.5 667.2h2V675h-2ZM1166.5 660.6h2V675h-2ZM1171.5 654h2V675h-2ZM1191.5 655.6h2V675h-2ZM1221.5 668.1h2V675h-2ZM1226.5 663.6h2V675h-2ZM1231.5 660.1h2V675h-2ZM1236.5 657.3h2V675h-2ZM1346.5 670.9h2V675h-2ZM1351.5 667.3h2V675h-2ZM1356.5 665.9h2V675h-2ZM1361.5 659.3h2V675h-2ZM1366.5 657.5h2V675h-2ZM1371.5 654.6h2V675h-2ZM1381.5 652.9h2V675h-2ZM1411.5 669.1h2V675h-2ZM1416.5 667.9h2V675h-2ZM1441.5 670.2h2V675h-2ZM1446.5 668.6h2V675h-2ZM1461.5 671.4h2V675h-2ZM1471.5 672.6h2V675h-2ZM1576.5 672.9h2V675h-2ZM1581.5 665.8h2V675h-2ZM1586.5 664.2h2V675h-2ZM1591.5 663.8h2V675h-2ZM1601.5 664.5h2V675h-2ZM1611.5 666.2h2V675h-2ZM1616.5 661.6h2V675h-2ZM1621.5 659.4h2V675h-2ZM1636.5 662.5h2V675h-2ZM1686.5 673.2h2V675h-2ZM1691.5 671.6h2V675h-2ZM1696.5 670.3h2V675h-2ZM1701.5 668.9h2V675h-2ZM1716.5 667.8h2V675h-2ZM1721.5 666.2h2V675h-2ZM1726.5 663.5h2V675h-2ZM1731.5 659.6h2V675h-2ZM1736.5 658.8h2V675h-2Z" fill="none" stroke="#10bf86" stroke-width="1.1"/><path d="M1.5 676h2V683.8h-2ZM6.5 676h2V683.4h-2ZM11.5 676h2V682.3h-2ZM16.5 676h2V681.8h-2ZM21.5 676h2V680.5h-2ZM26.5 676h2V677.5h-2ZM76.5 676h2V688h-2ZM91.5 676h2V687h-2ZM96.5 676h2V686.1h-2ZM246.5 676h2V700.1h-2ZM251.5 676h2V695.4h-2ZM256.5 676h2V692.6h-2ZM261.5 676h2V689.3h-2ZM266.5 676h2V687.3h-2ZM271.5 676h2V686.8h-2ZM281.5 676h2V686.6h-2ZM286.5 676h2V686h-2ZM291.5 676h2V684h-2ZM296.5 676h2V680h-2ZM301.5 676h2V679.2h-2ZM311.5 676h2V677.5h-2ZM431.5 676h2V689.6h-2ZM436.5 676h2V687.1h-2ZM441.5 676h2V685.2h-2ZM446.5 676h2V681.9h-2ZM636.5 676h2V679.3h-2ZM651.5 676h2V680h-2ZM656.5 676h2V678.4h-2ZM811.5 676h2V682.6h-2ZM816.5 676h2V681.2h-2ZM821.5 676h2V680.9h-2ZM851.5 676h2V684.6h-2ZM856.5 676h2V682.8h-2ZM861.5 676h2V681.3h-2ZM866.5 676h2V680.8h-2ZM876.5 676h2V680.1h-2ZM1021.5 676h2V691.7h-2ZM1026.5 676h2V686.5h-2ZM1031.5 676h2V680.9h-2ZM1036.5 676h2V678.1h-2ZM1136.5 676h2V684.3h-2ZM1141.5 676h2V679.6h-2ZM1266.5 676h2V690.3h-2ZM1301.5 676h2V717.5h-2ZM1306.5 676h2V715.5h-2ZM1311.5 676h2V709.5h-2ZM1316.5 676h2V706h-2ZM1321.5 676h2V702.5h-2ZM1326.5 676h2V701.4h-2ZM1331.5 676h2V693.8h-2ZM1336.5 676h2V684.2h-2ZM1501.5 676h2V701.5h-2ZM1511.5 676h2V698.2h-2ZM1516.5 676h2V695.3h-2ZM1521.5 676h2V690h-2ZM1561.5 676h2V692h-2ZM1566.5 676h2V685.9h-2ZM1571.5 676h2V677.4h-2Z" fill="none" stroke="#ee645f" stroke-width="1.1"/>
<path d="M2.5 674.4 7.5 675.4 12.5 676.3 17.5 677.2 22.5 677.9 27.5 678.2 32.5 678.2 37.5 678 42.5 677.8 47.5 677.6 52.5 677.8 57.5 678.5 62.5 680 67.5 681.7 72.5 683.4 77.5 685 82.5 686.8 87.5 688.6 92.5 690.1 97.5 691.5 102.5 690.6 107.5 687.9 112.5 684.3 117.5 680.7 122.5 677.3 127.5 674.4 132.5 672 137.5 670.4 142.5 669.3 147.5 668.9 152.5 668.9 157.5 669 162.5 668.7 167.5 668 172.5 667.3 177.5 665.7 182.5 663.8 187.5 662.2 192.5 660.7 197.5 659.7 202.5 659 207.5 658.6 212.5 658.9 217.5 659.9 222.5 661.4 227.5 663.6 232.5 666 237.5 669.2 242.5 672.6 247.5 675.7 252.5 678.3 257.5 680.5 262.5 682.2 267.5 683.8 272.5 685.3 277.5 686.8 282.5 688.2 287.5 689.6 292.5 690.7 297.5 691.3 302.5 691.9 307.5 692.7 312.5 693 317.5 692.8 322.5 692.6 327.5 692.5 332.5 692.2 337.5 692 342.5 691.6 347.5 690.9 352.5 690.3 357.5 689.4 362.5 688.6 367.5 687.7 372.5 687.2 377.5 686.7 382.5 686.3 387.5 686 392.5 685.8 397.5 685.7 402.5 686.2 407.5 687 412.5 688 417.5 689.8 422.5 691.9 427.5 694.1 432.5 695.9 437.5 697.5 442.5 698.7 447.5 699.6 452.5 699.8 457.5 699.3 462.5 698.1 467.5 696.8 472.5 695.1 477.5 693.4 482.5 691.6 487.5 689.8 492.5 687.8 497.5 685.9 502.5 683.9 507.5 681.8 512.5 680 517.5 678.6 522.5 677.6 527.5 676.9 532.5 676 537.5 674.8 542.5 673.4 547.5 672.2 552.5 671 557.5 670.1 562.5 669.2 567.5 668.7 572.5 668.1 577.5 667.9 582.5 668 587.5 668.2 592.5 668.3 597.5 667.5 602.5 666.4 607.5 665 612.5 663.4 617.5 662 622.5 661.5 627.5 661.8 632.5 662.4 637.5 662.9 642.5 663.6 647.5 664.4 652.5 665 657.5 665.5 662.5 665.1 667.5 664.5 672.5 663.8 677.5 662.9 682.5 662.2 687.5 661.9 692.5 661.8 697.5 661.9 702.5 662.1 707.5 662.4 712.5 662.3 717.5 662.1 722.5 661.9 727.5 662.3 732.5 662.9 737.5 663.5 742.5 663.4 747.5 662.9 752.5 662.4 757.5 661.8 762.5 661.3 767.5 660.9 772.5 660.5 777.5 659.7 782.5 658.9 787.5 658.4 792.5 658.1 797.5 657.9 802.5 658.5 807.5 659.5 812.5 660.4 817.5 661.2 822.5 662 827.5 662.7 832.5 663.5 837.5 664.7 842.5 666 847.5 667.5 852.5 668.7 857.5 669.7 862.5 670.5 867.5 671.2 872.5 671.9 877.5 672.6 882.5 672.6 887.5 672.3 892.5 671.9 897.5 671.4 902.5 671.1 907.5 671.1 912.5 670.9 917.5 670.5 922.5 669.8 927.5 669.2 932.5 668.7 937.5 668.3 942.5 667.6 947.5 666.4 952.5 665.2 957.5 663.5 962.5 661.5 967.5 659 972.5 656.5 977.5 654.1 982.5 652 987.5 650.4 992.5 649.2 997.5 648.8 1002.5 649.2 1007.5 650.5 1012.5 652.3 1017.5 654.4 1022.5 656.5 1027.5 658 1032.5 658.7 1037.5 659.1 1042.5 659.2 1047.5 659.3 1052.5 659.4 1057.5 659 1062.5 658.8 1067.5 658.8 1072.5 658.7 1077.5 658.4 1082.5 657.5 1087.5 656.7 1092.5 655.6 1097.5 653.9 1102.5 652.6 1107.5 650.9 1112.5 649.8 1117.5 649.5 1122.5 650.1 1127.5 651.2 1132.5 652.5 1137.5 653.7 1142.5 654.3 1147.5 654.4 1152.5 654.4 1157.5 654.2 1162.5 653.1 1167.5 651.2 1172.5 648.4 1177.5 646 1182.5 643.6 1187.5 641.3 1192.5 638.7 1197.5 636.5 1202.5 635.5 1207.5 635.2 1212.5 635.2 1217.5 635.2 1222.5 634.2 1227.5 632.7 1232.5 630.7 1237.5 628.3 1242.5 626.8 1247.5 626.1 1252.5 626.4 1257.5 627.4 1262.5 629.4 1267.5 631.3 1272.5 634.1 1277.5 637.5 1282.5 642.1 1287.5 647.6 1292.5 653.3 1297.5 659.4 1302.5 664.7 1307.5 669.8 1312.5 674.1 1317.5 678 1322.5 681.4 1327.5 684.7 1332.5 687.1 1337.5 688.2 1342.5 688.2 1347.5 687.5 1352.5 686.4 1357.5 685.2 1362.5 683.1 1367.5 680.8 1372.5 678.1 1377.5 675.4 1382.5 672.6 1387.5 670.2 1392.5 668.1 1397.5 666.5 1402.5 665.2 1407.5 664.4 1412.5 663.6 1417.5 662.6 1422.5 662.4 1427.5 662.7 1432.5 662.9 1437.5 662.7 1442.5 662 1447.5 661.1 1452.5 660.3 1457.5 659.7 1462.5 659.1 1467.5 659 1472.5 658.6 1477.5 658.4 1482.5 659.6 1487.5 662.1 1492.5 665.3 1497.5 668.7 1502.5 672 1507.5 675.5 1512.5 678.4 1517.5 680.9 1522.5 682.8 1527.5 684.9 1532.5 687.2 1537.5 689.6 1542.5 692.2 1547.5 695 1552.5 697.8 1557.5 700.8 1562.5 702.9 1567.5 704.3 1572.5 704.6 1577.5 704.2 1582.5 702.9 1587.5 701.4 1592.5 699.9 1597.5 698.5 1602.5 697 1607.5 695.9 1612.5 694.7 1617.5 692.9 1622.5 690.8 1627.5 689 1632.5 687.3 1637.5 685.7 1642.5 684.1 1647.5 683.1 1652.5 682.6 1657.5 682.4 1662.5 682.6 1667.5 682.5 1672.5 682.7 1677.5 683.1 1682.5 683.2 1687.5 682.9 1692.5 682.3 1697.5 681.6 1702.5 680.7 1707.5 679.9 1712.5 679.2 1717.5 678.2 1722.5 677 1727.5 675.4 1732.5 673.4 1737.5 671.2" stroke="#e6d927" stroke-width="1.1" fill="none" stroke-linejoin="round" />
<path d="M2.5 678.8 7.5 679.6 12.5 680 17.5 680.6 22.5 680.6 27.5 679.4 32.5 678.2 37.5 677.2 42.5 677.2 47.5 676.7 52.5 678.4 57.5 681.4 62.5 686 67.5 688.4 72.5 690.3 77.5 691.5 82.5 693.9 87.5 695.6 92.5 696.1 97.5 697 102.5 687 107.5 677.5 112.5 670 117.5 666.1 122.5 663.5 127.5 662.9 132.5 662.7 137.5 664 142.5 664.7 147.5 667.3 152.5 669 157.5 669.5 162.5 667.3 167.5 665.5 172.5 664.6 177.5 659.1 182.5 656 187.5 655.7 192.5 654.6 197.5 655.9 202.5 656.1 207.5 657.1 212.5 660.3 217.5 663.6 222.5 667.5 227.5 672.6 232.5 675.5 237.5 681.8 242.5 686.2 247.5 688.2 252.5 688.5 257.5 689.2 262.5 689.4 267.5 689.9 272.5 691.2 277.5 692.8 282.5 694 287.5 695.1 292.5 695.2 297.5 693.8 302.5 694 307.5 696.1 312.5 694.3 317.5 691.9 322.5 691.9 327.5 692.1 332.5 691.2 337.5 690.8 342.5 690.1 347.5 688.4 352.5 687.9 357.5 685.9 362.5 685.2 367.5 684.1 372.5 685.1 377.5 684.7 382.5 684.7 387.5 685.1 392.5 684.7 397.5 685.2 402.5 688.3 407.5 690.3 412.5 691.9 417.5 697.2 422.5 700.4 427.5 702.8 432.5 703.3 437.5 703.5 442.5 703.8 447.5 703.1 452.5 700.6 457.5 697.3 462.5 693.5 467.5 691.3 472.5 688.4 477.5 686.7 482.5 684.1 487.5 682.7 492.5 680.1 497.5 677.9 502.5 676.2 507.5 673.6 512.5 672.6 517.5 673 522.5 673.5 527.5 674.4 532.5 672.2 537.5 669.9 542.5 668 547.5 667.2 552.5 666.4 557.5 666.3 562.5 665.9 567.5 666.5 572.5 665.9 577.5 666.8 582.5 668.3 587.5 669 592.5 668.7 597.5 664.4 602.5 661.9 607.5 659.4 612.5 657.3 617.5 656.4 622.5 659.4 627.5 662.9 632.5 664.9 637.5 665.1 642.5 666.2 647.5 667.7 652.5 667.5 657.5 667.1 662.5 663.7 667.5 662.2 672.5 660.7 677.5 659.6 682.5 659.1 687.5 660.8 692.5 661.3 697.5 662.6 702.5 662.8 707.5 663.4 712.5 662.1 717.5 661.1 722.5 661.1 727.5 663.8 732.5 665.2 737.5 665.9 742.5 663.2 747.5 660.7 752.5 660.3 757.5 659.8 762.5 659 767.5 659.2 772.5 659 777.5 656.3 782.5 655.8 787.5 656.4 792.5 656.9 797.5 656.9 802.5 660.9 807.5 663.5 812.5 664.3 817.5 664.3 822.5 664.9 827.5 665.7 832.5 666.8 837.5 669.2 842.5 671.4 847.5 673.4 852.5 673.5 857.5 673.6 862.5 673.6 867.5 674.1 872.5 674.8 877.5 675.1 882.5 672.9 887.5 671.1 892.5 670 897.5 669.7 902.5 669.9 907.5 671 912.5 670.2 917.5 668.7 922.5 667.1 927.5 666.9 932.5 666.5 937.5 666.8 942.5 664.7 947.5 661.9 952.5 660.2 957.5 656.7 962.5 653.3 967.5 649 972.5 646.6 977.5 644.7 982.5 643.4 987.5 644.2 992.5 644.5 997.5 646.8 1002.5 650.9 1007.5 655.8 1012.5 659.3 1017.5 663.2 1022.5 664.9 1027.5 663.7 1032.5 661.6 1037.5 660.6 1042.5 659.7 1047.5 659.9 1052.5 659.7 1057.5 657.6 1062.5 658 1067.5 658.9 1072.5 658.3 1077.5 656.8 1082.5 654.3 1087.5 653.4 1092.5 651.2 1097.5 647.1 1102.5 647.5 1107.5 644.1 1112.5 645.5 1117.5 648.2 1122.5 652.6 1127.5 655.5 1132.5 657.8 1137.5 658.4 1142.5 656.5 1147.5 654.8 1152.5 654.3 1157.5 653.4 1162.5 648.7 1167.5 643.5 1172.5 637.4 1177.5 636.2 1182.5 633.9 1187.5 632.2 1192.5 628.5 1197.5 627.8 1202.5 631.6 1207.5 633.6 1212.5 635.3 1217.5 635.3 1222.5 630.3 1227.5 626.4 1232.5 622.7 1237.5 619 1242.5 620.8 1247.5 623.2 1252.5 627.5 1257.5 631.2 1262.5 637.4 1267.5 638.9 1272.5 645.2 1277.5 651.4 1282.5 660.6 1287.5 669.3 1292.5 676.4 1297.5 683.7 1302.5 685.9 1307.5 690.1 1312.5 691.4 1317.5 693.5 1322.5 695.2 1327.5 697.9 1332.5 696.5 1337.5 692.9 1342.5 687.9 1347.5 685 1352.5 682.1 1357.5 680.1 1362.5 674.7 1367.5 671.5 1372.5 667.4 1377.5 664.8 1382.5 661 1387.5 660.6 1392.5 659.6 1397.5 660.4 1402.5 660.1 1407.5 661.3 1412.5 660.1 1417.5 658.5 1422.5 661.7 1427.5 663.9 1432.5 663.8 1437.5 662 1442.5 659.1 1447.5 657.4 1452.5 657 1457.5 657.5 1462.5 656.8 1467.5 658.5 1472.5 656.9 1477.5 657.8 1482.5 664.5 1487.5 671.7 1492.5 678.5 1497.5 682.1 1502.5 685.3 1507.5 689.4 1512.5 690 1517.5 691.1 1522.5 690.3 1527.5 693 1532.5 696.5 1537.5 699.4 1542.5 702.7 1547.5 706.2 1552.5 709.1 1557.5 712.4 1562.5 711.4 1567.5 709.7 1572.5 705.8 1577.5 702.6 1582.5 697.8 1587.5 695.5 1592.5 693.8 1597.5 692.8 1602.5 691.3 1607.5 691.4 1612.5 689.8 1617.5 685.7 1622.5 682.5 1627.5 681.8 1632.5 680.7 1637.5 678.9 1642.5 677.8 1647.5 679.4 1652.5 680.2 1657.5 681.6 1662.5 683.5 1667.5 682.1 1672.5 683.5 1677.5 684.8 1682.5 683.8 1687.5 681.5 1692.5 680.1 1697.5 678.8 1702.5 677.2 1707.5 676.7 1712.5 676.4 1717.5 674.1 1722.5 672.1 1727.5 669.1 1732.5 665.2 1737.5 662.6" stroke="#cfd2e4" stroke-width="1.1" fill="none" stroke-linejoin="round" />
<path d="M2.5 838.2 7.5 837.5 12.5 833 17.5 836.4 22.5 832.6 27.5 812.7 32.5 800.3 37.5 794.4 42.5 805.9 47.5 804.8 52.5 837 57.5 854.1 62.5 866.8 67.5 862.5 72.5 860.4 77.5 857.7 82.5 863.1 87.5 857.7 92.5 848.8 97.5 847.3 102.5 799.8 107.5 780.7 112.5 773.3 117.5 786.9 122.5 796.4 127.5 807.3 132.5 816.2 137.5 825.7 142.5 828.5 147.5 860.4 152.5 870.9 157.5 869.3 162.5 828 167.5 803.2 172.5 797.7 177.5 782.9 182.5 783.5 187.5 798 192.5 798.9 197.5 814.4 202.5 816.3 207.5 833.9 212.5 847.8 217.5 859 222.5 863.8 227.5 874.4 232.5 867.6 237.5 869.6 242.5 864.4 247.5 853 252.5 838.6 257.5 830.9 262.5 821.1 267.5 817.3 272.5 825.2 277.5 839 282.5 847.2 287.5 849.2 292.5 844.6 297.5 830.1 302.5 837 307.5 858.6 312.5 823.1 317.5 804.6 322.5 820 327.5 833.8 332.5 830.4 337.5 833.9 342.5 833.6 347.5 822 352.5 828.2 357.5 818.6 362.5 819.8 367.5 812.4 372.5 837.1 377.5 832 382.5 837.6 387.5 846.1 392.5 841.6 397.5 853.7 402.5 862.5 407.5 862.4 412.5 864.5 417.5 865.6 422.5 860 427.5 858.7 432.5 849.5 437.5 844.9 442.5 844.5 447.5 836.7 452.5 818.6 457.5 800.7 462.5 780.4 467.5 788.9 472.5 787.6 477.5 796.5 482.5 790.5 487.5 794.8 492.5 785.7 497.5 782.8 502.5 783.9 507.5 786.5 512.5 804.4 517.5 829.7 522.5 844.1 527.5 856.5 532.5 818.1 537.5 793.9 542.5 781.8 547.5 787.1 552.5 787.4 557.5 803.2 562.5 805.4 567.5 817.4 572.5 808.7 577.5 842.1 582.5 861.6 587.5 859.3 592.5 839.2 597.5 804.9 602.5 800.7 607.5 792.6 612.5 787.4 617.5 795.1 622.5 828 627.5 852.8 632.5 860.2 637.5 850.8 642.5 851.5 647.5 855.8 652.5 844.5 657.5 834.8 662.5 802.7 667.5 797.1 672.5 793.1 677.5 791.1 682.5 794.4 687.5 814.7 692.5 817.6 697.5 828 702.5 822.5 707.5 839.2 712.5 811.9 717.5 795.4 722.5 798.4 727.5 840.4 732.5 847.7 737.5 840.8 742.5 801.7 747.5 796.5 752.5 807.4 757.5 809.9 762.5 807 767.5 811 772.5 809.3 777.5 788.4 782.5 793.7 787.5 818.5 792.5 828.1 797.5 823.4 802.5 845.7 807.5 850.3 812.5 836.9 817.5 823.5 822.5 820 827.5 816.8 832.5 819.7 837.5 836.4 842.5 846.6 847.5 858.3 852.5 841.2 857.5 826.8 862.5 818.4 867.5 820.4 872.5 825.1 877.5 822.4 882.5 791.3 887.5 781.1 892.5 781.9 897.5 792.9 902.5 805.1 907.5 826.9 912.5 808.1 917.5 796.2 922.5 790.1 927.5 804.7 932.5 806.5 937.5 816.2 942.5 795.7 947.5 786.9 952.5 786.8 957.5 782.2 962.5 779.8 967.5 781.5 972.5 788.9 977.5 791.2 982.5 791.1 987.5 807.1 992.5 810.6 997.5 827.5 1002.5 864.1 1007.5 876.2 1012.5 875.1 1017.5 871 1022.5 856 1027.5 827.4 1032.5 799.1 1037.5 785.9 1042.5 778.2 1047.5 782.1 1052.5 781.4 1057.5 784.1 1062.5 801.1 1067.5 817.6 1072.5 819.2 1077.5 804.3 1082.5 789.6 1087.5 794.6 1092.5 792.8 1097.5 784 1102.5 802.1 1107.5 796.5 1112.5 819.1 1117.5 843.3 1122.5 863.7 1127.5 866.2 1132.5 864.6 1137.5 852 1142.5 828.6 1147.5 813.3 1152.5 806.4 1157.5 797.9 1162.5 780.4 1167.5 788.2 1172.5 784.7 1177.5 796.9 1182.5 798.7 1187.5 800.4 1192.5 791.2 1197.5 797.2 1202.5 822.5 1207.5 834.5 1212.5 836.6 1217.5 824.6 1222.5 795.9 1227.5 798.4 1232.5 794.7 1237.5 787 1242.5 802.2 1247.5 812.3 1252.5 825.8 1257.5 833.1 1262.5 849 1267.5 837.9 1272.5 853.2 1277.5 864.5 1282.5 872.5 1287.5 863.3 1292.5 856.4 1297.5 858.6 1302.5 846.6 1307.5 849.5 1312.5 843.1 1317.5 840.2 1322.5 835.9 1327.5 841.6 1332.5 822.6 1337.5 792.1 1342.5 773.2 1347.5 782.6 1352.5 786.3 1357.5 791.8 1362.5 782 1367.5 784.1 1372.5 780.1 1377.5 784 1382.5 793.9 1387.5 820.9 1392.5 826.5 1397.5 839.9 1402.5 837.7 1407.5 854.2 1412.5 838.8 1417.5 821.7 1422.5 843.5 1427.5 846.9 1432.5 825.6 1437.5 796.9 1442.5 789.3 1447.5 789.4 1452.5 796.2 1457.5 804.1 1462.5 799.9 1467.5 813.5 1472.5 797.3 1477.5 813.7 1482.5 852.9 1487.5 856 1492.5 860.4 1497.5 853.5 1502.5 850.6 1507.5 856.2 1512.5 846.8 1517.5 844.6 1522.5 831.3 1527.5 835.5 1532.5 854 1537.5 862.3 1542.5 859.4 1547.5 856.6 1552.5 858.1 1557.5 864 1562.5 848.7 1567.5 838.2 1572.5 802.5 1577.5 783.6 1582.5 769.8 1587.5 779.5 1592.5 788.6 1597.5 799.2 1602.5 801.3 1607.5 825 1612.5 825.2 1617.5 818.1 1622.5 815.9 1627.5 832.7 1632.5 836.4 1637.5 828.4 1642.5 828 1647.5 850.9 1652.5 859.8 1657.5 872 1662.5 867.9 1667.5 835.8 1672.5 845.5 1677.5 847.3 1682.5 830.3 1687.5 800.5 1692.5 790 1697.5 788.5 1702.5 784.4 1707.5 791.7 1712.5 797.9 1717.5 785.3 1722.5 785.2 1727.5 779.2 1732.5 781.2 1737.5 786.7" stroke="#d94fc2" stroke-width="1.1" fill="none" stroke-linejoin="round" />
<path d="M2.5 841.5 7.5 840.9 12.5 839.8 17.5 839.3 22.5 838.3 27.5 834.7 32.5 829.8 37.5 824.7 42.5 822 47.5 819.6 52.5 822 57.5 826.6 62.5 832.4 67.5 836.7 72.5 840.1 77.5 842.6 82.5 845.5 87.5 847.3 92.5 847.5 97.5 847.5 102.5 840.6 107.5 832.1 112.5 823.7 117.5 818.4 122.5 815.3 127.5 814.1 132.5 814.4 137.5 816 142.5 817.8 147.5 823.9 152.5 830.6 157.5 836.1 162.5 835 167.5 830.5 172.5 825.8 177.5 819.6 182.5 814.5 187.5 812.1 192.5 810.2 197.5 810.8 202.5 811.6 207.5 814.8 212.5 819.5 217.5 825.1 222.5 830.7 227.5 836.9 232.5 841.3 237.5 845.3 242.5 848.1 247.5 848.8 252.5 847.3 257.5 845 262.5 841.6 267.5 838.1 272.5 836.3 277.5 836.7 282.5 838.2 287.5 839.7 292.5 840.4 297.5 838.9 302.5 838.7 307.5 841.5 312.5 838.9 317.5 834 322.5 832 327.5 832.3 332.5 832 337.5 832.3 342.5 832.5 347.5 831 352.5 830.6 357.5 828.9 362.5 827.6 367.5 825.4 372.5 827.1 377.5 827.8 382.5 829.2 387.5 831.6 392.5 833 397.5 836 402.5 839.8 407.5 843 412.5 846.1 417.5 848.9 422.5 850.5 427.5 851.6 432.5 851.3 437.5 850.4 442.5 849.6 447.5 847.7 452.5 843.6 457.5 837.4 462.5 829.3 467.5 823.5 472.5 818.4 477.5 815.3 482.5 811.7 487.5 809.3 492.5 805.9 497.5 802.6 502.5 800 507.5 798 512.5 799 517.5 803.4 522.5 809.2 527.5 815.9 532.5 816.2 537.5 813.1 542.5 808.6 547.5 805.5 552.5 802.9 557.5 803 562.5 803.3 567.5 805.3 572.5 805.8 577.5 811 582.5 818.2 587.5 824.1 592.5 826.3 597.5 823.2 602.5 820 607.5 816.1 612.5 812 617.5 809.6 622.5 812.2 627.5 818 632.5 824 637.5 827.9 642.5 831.2 647.5 834.7 652.5 836.1 657.5 836 662.5 831.2 667.5 826.3 672.5 821.6 677.5 817.2 682.5 814 687.5 814.1 692.5 814.6 697.5 816.5 702.5 817.3 707.5 820.5 712.5 819.3 717.5 815.8 722.5 813.4 727.5 817.2 732.5 821.6 737.5 824.3 742.5 821.1 747.5 817.6 752.5 816.1 757.5 815.2 762.5 814.1 767.5 813.6 772.5 813 777.5 809.5 782.5 807.2 787.5 808.8 792.5 811.6 797.5 813.3 802.5 817.9 807.5 822.5 812.5 824.6 817.5 824.4 822.5 823.8 827.5 822.8 832.5 822.3 837.5 824.4 842.5 827.5 847.5 831.9 852.5 833.3 857.5 832.3 862.5 830.3 867.5 828.9 872.5 828.4 877.5 827.5 882.5 822.4 887.5 816.5 892.5 811.5 897.5 808.8 902.5 808.3 907.5 811 912.5 810.6 917.5 808.5 922.5 805.9 927.5 805.7 932.5 805.8 937.5 807.3 942.5 805.7 947.5 803 952.5 800.7 957.5 798 962.5 795.4 967.5 793.4 972.5 792.8 977.5 792.6 982.5 792.3 987.5 794.5 992.5 796.8 997.5 801.2 1002.5 810.2 1007.5 819.6 1012.5 827.5 1017.5 833.7 1022.5 836.9 1027.5 835.6 1032.5 830.3 1037.5 824 1042.5 817.4 1047.5 812.4 1052.5 808 1057.5 804.6 1062.5 804.1 1067.5 806 1072.5 807.9 1077.5 807.4 1082.5 804.8 1087.5 803.4 1092.5 801.9 1097.5 799.3 1102.5 799.7 1107.5 799.3 1112.5 802.1 1117.5 808 1122.5 815.9 1127.5 823.1 1132.5 829 1137.5 832.3 1142.5 831.8 1147.5 829.1 1152.5 825.9 1157.5 821.9 1162.5 816 1167.5 812 1172.5 808.1 1177.5 806.5 1182.5 805.4 1187.5 804.7 1192.5 802.7 1197.5 801.9 1202.5 804.9 1207.5 809.1 1212.5 813 1217.5 814.7 1222.5 812 1227.5 810.1 1232.5 807.9 1237.5 804.9 1242.5 804.5 1247.5 805.6 1252.5 808.5 1257.5 812 1262.5 817.3 1267.5 820.2 1272.5 824.9 1277.5 830.6 1282.5 836.6 1287.5 840.4 1292.5 842.7 1297.5 845 1302.5 845.2 1307.5 845.8 1312.5 845.4 1317.5 844.7 1322.5 843.4 1327.5 843.2 1332.5 840.2 1337.5 833.3 1342.5 824.7 1347.5 818.7 1352.5 814.1 1357.5 810.9 1362.5 806.8 1367.5 803.5 1372.5 800.2 1377.5 797.9 1382.5 797.3 1387.5 800.7 1392.5 804.4 1397.5 809.4 1402.5 813.5 1407.5 819.3 1412.5 822.1 1417.5 822 1422.5 825.1 1427.5 828.2 1432.5 827.8 1437.5 823.4 1442.5 818.6 1447.5 814.4 1452.5 811.8 1457.5 810.7 1462.5 809.1 1467.5 809.8 1472.5 808 1477.5 808.8 1482.5 815.1 1487.5 820.9 1492.5 826.6 1497.5 830.4 1502.5 833.3 1507.5 836.6 1512.5 838 1517.5 839 1522.5 837.9 1527.5 837.5 1532.5 839.9 1537.5 843.1 1542.5 845.4 1547.5 847 1552.5 848.6 1557.5 850.8 1562.5 850.5 1567.5 848.7 1572.5 842.1 1577.5 833.8 1582.5 824.6 1587.5 818.2 1592.5 814 1597.5 811.9 1602.5 810.4 1607.5 812.5 1612.5 814.3 1617.5 814.8 1622.5 815 1627.5 817.5 1632.5 820.2 1637.5 821.4 1642.5 822.3 1647.5 826.4 1652.5 831.2 1657.5 837 1662.5 841.4 1667.5 840.6 1672.5 841.3 1677.5 842.2 1682.5 840.5 1687.5 834.8 1692.5 828.4 1697.5 822.7 1702.5 817.2 1707.5 813.6 1712.5 811.3 1717.5 807.6 1722.5 804.4 1727.5 800.8 1732.5 798 1737.5 796.4" stroke="#e6d927" stroke-width="1.1" fill="none" stroke-linejoin="round" />
<path d="M2.5 840.4 7.5 839.8 12.5 837.5 17.5 838.3 22.5 836.4 27.5 827.3 32.5 819.9 37.5 814.6 42.5 816.6 47.5 814.7 52.5 827 57.5 835.8 62.5 843.8 67.5 845.3 72.5 846.8 77.5 847.6 82.5 851.4 87.5 850.8 92.5 847.9 97.5 847.4 102.5 827 107.5 815 112.5 806.9 117.5 807.9 122.5 809 127.5 811.9 132.5 815 137.5 819.2 142.5 821.4 147.5 836.1 152.5 844.1 157.5 847.2 162.5 832.7 167.5 821.4 172.5 816.4 177.5 807.4 182.5 804.2 187.5 807.4 192.5 806.4 197.5 812 202.5 813.2 207.5 821.2 212.5 828.9 217.5 836.4 222.5 841.7 227.5 849.4 232.5 850.1 237.5 853.4 242.5 853.5 247.5 850.2 252.5 844.4 257.5 840.3 262.5 834.7 267.5 831.2 272.5 832.6 277.5 837.5 282.5 841.2 287.5 842.9 292.5 841.8 297.5 836 302.5 838.1 307.5 847.2 312.5 833.6 317.5 824.2 322.5 828 327.5 832.8 332.5 831.4 337.5 832.8 342.5 832.8 347.5 828 352.5 829.8 357.5 825.4 362.5 825 367.5 821.1 372.5 830.4 377.5 829.2 382.5 832 387.5 836.4 392.5 835.9 397.5 841.9 402.5 847.4 407.5 849.5 412.5 852.2 417.5 854.5 422.5 853.6 427.5 854 432.5 850.7 437.5 848.6 442.5 847.9 447.5 844 452.5 835.2 457.5 825.2 462.5 813 467.5 812 472.5 808.1 477.5 809 482.5 804.7 487.5 804.5 492.5 799.2 497.5 796 502.5 794.6 507.5 794.2 512.5 800.8 517.5 812.1 522.5 820.8 527.5 829.4 532.5 816.8 537.5 806.7 542.5 799.7 547.5 799.4 552.5 797.8 557.5 803 562.5 804 567.5 809.3 572.5 806.8 577.5 821.4 582.5 832.7 587.5 835.8 592.5 830.6 597.5 817.1 602.5 813.6 607.5 808.2 612.5 803.8 617.5 804.7 622.5 817.5 627.5 829.6 632.5 836.1 637.5 835.5 642.5 838 647.5 841.8 652.5 838.9 657.5 835.6 662.5 821.7 667.5 816.6 672.5 812.1 677.5 808.5 682.5 807.5 687.5 814.3 692.5 815.6 697.5 820.3 702.5 819.1 707.5 826.7 712.5 816.8 717.5 809 722.5 808.4 727.5 824.9 732.5 830.3 737.5 829.8 742.5 814.6 747.5 810.6 752.5 813.2 757.5 813.5 762.5 811.7 767.5 812.7 772.5 811.8 777.5 802.5 782.5 802.7 787.5 812 792.5 817.1 797.5 816.7 802.5 827.2 807.5 831.8 812.5 828.7 817.5 824.1 822.5 822.5 827.5 820.8 832.5 821.5 837.5 828.4 842.5 833.9 847.5 840.7 852.5 835.9 857.5 830.5 862.5 826.4 867.5 826.1 872.5 827.3 877.5 825.8 882.5 812 887.5 804.7 892.5 801.6 897.5 803.5 902.5 807.2 907.5 816.3 912.5 809.8 917.5 804.4 922.5 800.6 927.5 805.4 932.5 806 937.5 810.3 942.5 802.3 947.5 797.6 952.5 796.1 957.5 792.8 962.5 790.2 967.5 789.5 972.5 791.5 977.5 792.1 982.5 791.9 987.5 798.7 992.5 801.4 997.5 809.9 1002.5 828.1 1007.5 838.5 1012.5 843.4 1017.5 846.1 1022.5 843.3 1027.5 832.8 1032.5 819.9 1037.5 811.3 1042.5 804.4 1047.5 802.3 1052.5 799.1 1057.5 797.7 1062.5 803.1 1067.5 809.9 1072.5 811.6 1077.5 806.3 1082.5 799.8 1087.5 800.5 1092.5 798.9 1097.5 794.2 1102.5 800.5 1107.5 798.4 1112.5 807.8 1117.5 819.8 1122.5 831.9 1127.5 837.5 1132.5 840.9 1137.5 838.9 1142.5 830.7 1147.5 823.9 1152.5 819.4 1157.5 813.9 1162.5 804.1 1167.5 804.1 1172.5 800.3 1177.5 803.3 1182.5 803.2 1187.5 803.2 1192.5 798.9 1197.5 800.4 1202.5 810.7 1207.5 817.6 1212.5 820.9 1217.5 818 1222.5 806.7 1227.5 806.2 1232.5 803.5 1237.5 798.9 1242.5 803.7 1247.5 807.8 1252.5 814.3 1257.5 819 1262.5 827.9 1267.5 826.1 1272.5 834.4 1277.5 841.9 1282.5 848.6 1287.5 848 1292.5 847.3 1297.5 849.5 1302.5 845.7 1307.5 847 1312.5 844.7 1317.5 843.2 1322.5 840.9 1327.5 842.6 1332.5 834.3 1337.5 819.6 1342.5 807.6 1347.5 806.7 1352.5 804.8 1357.5 804.5 1362.5 798.5 1367.5 797.1 1372.5 793.5 1377.5 793.2 1382.5 796.2 1387.5 807.4 1392.5 811.8 1397.5 819.6 1402.5 821.6 1407.5 830.9 1412.5 827.7 1417.5 821.9 1422.5 831.2 1427.5 834.4 1432.5 827.1 1437.5 814.6 1442.5 808.8 1447.5 806.1 1452.5 806.6 1457.5 808.5 1462.5 806.1 1467.5 811 1472.5 804.4 1477.5 810.4 1482.5 827.7 1487.5 832.6 1492.5 837.9 1497.5 838.1 1502.5 839.1 1507.5 843.1 1512.5 840.9 1517.5 840.8 1522.5 835.7 1527.5 836.8 1532.5 844.6 1537.5 849.5 1542.5 850.1 1547.5 850.2 1552.5 851.8 1557.5 855.2 1562.5 849.9 1567.5 845.2 1572.5 828.9 1577.5 817.1 1582.5 806.4 1587.5 805.3 1592.5 805.5 1597.5 807.7 1602.5 807.4 1607.5 816.6 1612.5 817.9 1617.5 815.9 1622.5 815.3 1627.5 822.6 1632.5 825.6 1637.5 823.7 1642.5 824.2 1647.5 834.6 1652.5 840.7 1657.5 848.7 1662.5 850.2 1667.5 839 1672.5 842.7 1677.5 843.9 1682.5 837.1 1687.5 823.3 1692.5 815.6 1697.5 811.3 1702.5 806.3 1707.5 806.3 1712.5 806.9 1717.5 800.2 1722.5 798 1727.5 793.6 1732.5 792.4 1737.5 793.1" stroke="#cfd2e4" stroke-width="1.1" fill="none" stroke-linejoin="round" />
<path d="M1216.5 105.5h7m-3-2.5l3 2.5l-3 2.5M428.5 560.5h-7m3-2.5l-3 2.5l3 2.5" stroke="#c3c8da" stroke-width="1.1" fill="none"/>
<polygon points="5.4,392.2 83.7,471.7 80.3,472.7 92.6,476.6 88.5,464.4 87.5,467.8 6.6,391" fill="#fb2015"/>
<polygon points="93.4,477.1 178.3,336.2 180.1,339.3 180.6,326.2 169.4,333 173,333.1 91.8,476.1" fill="#fb2015"/>
<polygon points="180.2,327.4 416.2,548.3 412.8,549.5 425.5,552.7 421.3,540.3 420.4,543.8 181.4,326" fill="#fb2015"/>
<polygon points="425.9,553.5 976.3,299.7 976,303.2 983.5,292 970.1,290.5 973,292.6 425.1,551.9" fill="#fb2015"/>
<polygon points="982.8,292.5 1015.7,343.3 1012.7,343.5 1022.5,348.3 1021.4,337.5 1020.2,340.2 984.2,291.5" fill="#fb2015"/>
<polygon points="1023.2,348.9 1234,121.8 1235.1,125.2 1238.3,112.5 1226,116.8 1229.4,117.6 1021.8,347.7" fill="#fb2015"/>
<polygon points="1237.5,113 1314.8,244.9 1311.2,245.1 1322.5,251.7 1321.9,238.7 1320.1,241.7 1239.1,112" fill="#fb2015"/>
<polygon points="1323.1,252.4 1442.8,146.9 1443.6,150.3 1448,138 1435.3,141.1 1438.7,142.3 1321.9,251" fill="#fb2015"/>
<polygon points="1447.3,138.6 1549.1,273.6 1545.6,274.2 1557.5,279.5 1555.4,266.6 1554,269.9 1448.7,137.4" fill="#fb2015"/>
<polygon points="1558.1,280.1 1623.4,218.3 1624.4,221.7 1628.5,209.5 1616.2,213.4 1619.6,214.5 1556.9,278.9" fill="#fb2015"/>
<polygon points="1627.9,210.1 1669.4,252.9 1666.5,253.7 1677,256.5 1673.9,246.1 1673.1,249 1629.1,208.9" fill="#fb2015"/>
<polygon points="1677.7,257.1 1732.8,193.8 1734.1,197 1737,184.5 1725.2,189.6 1728.7,190.3 1676.3,255.9" fill="#fb2015"/>
<path d="M1586.5 69V598M1586.5 600V728M1586.5 750V879" stroke="#9196ab" stroke-width="1" stroke-dasharray="5 5" fill="none"/>
<path d="M1 649.5H1792" stroke="#9196ab" stroke-width="1" stroke-dasharray="5 5" fill="none"/>
<rect x="1812" y="179.5" width="59" height="20" fill="#c1555a"/><path d="M1812 189.5h6" stroke="#fff" stroke-width="1"/>
<rect x="1792" y="639.5" width="79" height="20" fill="#2f3447"/>
<rect x="1526" y="901" width="122" height="18.5" fill="#353a4b"/>
<g fill="none" stroke="#fb2015" stroke-width="3.3" stroke-linejoin="round"><ellipse cx="1839.7" cy="121.1" rx="28.8" ry="17.3"/><ellipse cx="1840" cy="166" rx="28.4" ry="9.2"/><ellipse cx="1841.6" cy="220.6" rx="26.7" ry="10.4"/><ellipse cx="1841.9" cy="268" rx="26.4" ry="14.2"/><ellipse cx="1738.3" cy="188.1" rx="10.9" ry="22.3"/><ellipse cx="1735.7" cy="665.9" rx="13.5" ry="29"/><ellipse cx="1735" cy="791.3" rx="15.2" ry="30.8"/><rect x="1344.5" y="621.5" width="414" height="105.9"/></g>
<path d="M13.5 14.5h11v11h-11zM15.5 21.7l3-3l1.7 1.7l3.2-2.7" stroke="#a7accb" stroke-width="1.1" fill="none" stroke-linecap="round" stroke-linejoin="round" />
<path d="M107.9 13.099999999999998L113.3 16.5V23.3L107.9 26.7L102.5 23.3V16.5Z" stroke="#a7accb" stroke-width="1.1" fill="none" stroke-linecap="round" stroke-linejoin="round" /><circle cx="107.9" cy="19.9" r="2.2" fill="none" stroke="#a7accb" stroke-width="1.1"/><circle cx="107.9" cy="19.9" r="0.6" fill="#a7accb"/>
<path d="M162 25.6l0.9-3.6l7.3-7.3l2.7 2.7l-7.3 7.3zM168.3 16.7l2.7 2.7M168.5 25.6h4.6" stroke="#3f92f5" stroke-width="1.2" fill="none" stroke-linecap="round" stroke-linejoin="round" />
<path d="M219.6 17.3h10.8v8.2h-10.8zM222.3 17.3v-2.3q0-0.9 0.9-0.9h3.6q0.9 0 0.9 0.9v2.3M219.6 20.6h10.8" stroke="#a7accb" stroke-width="1.1" fill="none" stroke-linecap="round" stroke-linejoin="round" />
<path d="M289.6 23.0L286.0 26.6L281.0 26.6L277.4 23.0L277.4 18.0L281.0 14.4L286.0 14.4L289.6 18.0Z" stroke="#f5a623" stroke-width="1.3" fill="none" stroke-linecap="round" stroke-linejoin="round" />
<circle cx="283.5" cy="20.5" r="3.4" fill="none" stroke="#a87420" stroke-width="1"/>
<path d="M282.7 21.3l3-3" stroke="#f5a623" stroke-width="1.3" fill="none" stroke-linecap="round" stroke-linejoin="round" />
<path d="M424.8 18.2h7.2l-3.6 4z" fill="#8c92b3"/>
<path d="M1757.5 13.7l3.1 3.1M1760.8 13.9v3.1h-3.1M1768.5 13.7l-3.1 3.1M1765.2 13.9v3.1h3.1M1757.5 24.4l3.1-3.1M1760.8 24.2v-3.1h-3.1M1768.5 24.4l-3.1-3.1M1765.2 24.2v-3.1h3.1" stroke="#9499b6" stroke-width="0.9" fill="none" stroke-linecap="round" stroke-linejoin="round" />
<path d="M1779.5 17.5v-4h11v11.5h-4.5M1779 22.3h5.4M1781.7 19.6v5.4" stroke="#9499b6" stroke-width="1.1" fill="none" stroke-linecap="round" stroke-linejoin="round" />
<path d="M1847 18.4h7.8l-3.9 4z" fill="#9da2bf"/>
<path d="M14 51.5h6.9M24.2 51.5h6.9M22.6 43v7.1M22.6 53.1v7.1" stroke="#3f92f5" stroke-width="1.3" fill="none"/>
<path d="M42 62h-5.2l5.2 -5.2z" fill="#8c92b3"/>
<path d="M82 62h-5.2l5.2 -5.2z" fill="#8c92b3"/>
<path d="M122 62h-5.2l5.2 -5.2z" fill="#8c92b3"/>
<path d="M162 62h-5.2l5.2 -5.2z" fill="#8c92b3"/>
<path d="M202 62h-5.2l5.2 -5.2z" fill="#8c92b3"/>
<path d="M242 62h-5.2l5.2 -5.2z" fill="#8c92b3"/>
<path d="M282 62h-5.2l5.2 -5.2z" fill="#8c92b3"/>
<path d="M56.3 57l12-10.2" stroke="#a7accb" stroke-width="1.1" fill="none" stroke-linecap="round" stroke-linejoin="round" /><path d="M69.6 45.6l-4.6 1.3l3.3 3.3z" fill="#a7accb"/><path d="M54.8 55.3l3 3.3" stroke="#a7accb" stroke-width="1.6" fill="none" stroke-linecap="round" stroke-linejoin="round" />
<path d="M95.2 54.6l10.3-10.3M98.2 59.7l12.6-12.6M99.2 47.8l3 3M104.5 50.5l2.6 2.6M102.5 53.3l3 3M106.5 54.6l2.2 2.2" stroke="#a7accb" stroke-width="1.1" fill="none" stroke-linecap="round" stroke-linejoin="round" />
<ellipse cx="143" cy="52" rx="7.8" ry="6.7" fill="none" stroke="#a7accb" stroke-width="1.1"/>
<path d="M175.2 46.5h15.6M175.2 51.5h15.6M175.2 56.5h15.6" stroke="#a7accb" stroke-width="1.1" fill="none" stroke-linecap="round" stroke-linejoin="round" /><circle cx="183" cy="46.5" r="1.4" fill="#a7accb"/><circle cx="183" cy="56.5" r="1.4" fill="#a7accb"/>
<path d="M214.5 56.7l6.3-10l3.2 10l5.7-8M214.3 46.2l1.3-0.9v4" stroke="#a7accb" stroke-width="1.1" fill="none" stroke-linecap="round" stroke-linejoin="round" />
<text x="229" y="59.5" font-size="7" fill="#a7accb" font-family="Liberation Sans,sans-serif">3</text>
<path d="M256.3 46.4h13.4v12h-13.4zM260.4 52.6h5.2M263 50v5.2" stroke="#a7accb" stroke-width="1.1" fill="none" stroke-linecap="round" stroke-linejoin="round" /><circle cx="269.2" cy="46.2" r="1.5" fill="#a7accb"/><circle cx="256.2" cy="58.3" r="1.5" fill="#a7accb"/>
<path d="M331.1 55.0L343.3 44.7L346.9 49.0L334.7 59.3ZM333.9 52.6l1.5 1.8M337.2 49.9l1.5 1.8M340.5 47.1l1.5 1.8" stroke="#efd3ab" stroke-width="1.1" fill="none" stroke-linecap="round" stroke-linejoin="round" /><path d="M331 48v-3.8h6.5M347 56v4h-6.5" stroke="#efd3ab" stroke-width="1.1" fill="none" stroke-linecap="round" stroke-linejoin="round" />
<path d="M367.1 55.0L379.3 44.7L382.9 49.0L370.7 59.3ZM369.9 52.6l1.5 1.8M373.2 49.9l1.5 1.8M376.5 47.1l1.5 1.8" stroke="#efd3ab" stroke-width="1.1" fill="none" stroke-linecap="round" stroke-linejoin="round" /><path d="M367.6 51a7.6 7.6 0 0 1 6.4-6.8M382.6 53a7.6 7.6 0 0 1-6.4 6.8" stroke="#efd3ab" stroke-width="1.1" fill="none" stroke-linecap="round" stroke-linejoin="round" />
<path d="M402.8 54.9L414.7 45.0L418.2 49.1L406.3 59.0ZM405.6 52.6l1.5 1.8M408.8 49.9l1.5 1.8M412.0 47.2l1.5 1.8" stroke="#a7accb" stroke-width="1.1" fill="none" stroke-linecap="round" stroke-linejoin="round" />
<path d="M439.5 57.4v-3.2l9.4-9.4q0.6-0.6 1.2 0l2.6 2.6q0.6 0.6 0 1.2l-9.4 9.4zM446.3 47.2l3.8 3.8M448.2 57.5q1.6-2.6 3-1.4t3.3-1.4l2-1.6" stroke="#3f92f5" stroke-width="1.2" fill="none" stroke-linecap="round" stroke-linejoin="round" />
<path d="M477.5 45v2.2M477.5 57.6v2.4M475.4 47.2h4.2v10.4h-4.2zM483.5 47.2v2M483.5 57.6v2.4M481.4 49.4h4.2v8.2h-4.2zM489.6 45v2.2M489.6 57.6v2.4M487.5 47.2h4.2v10.4h-4.2z" stroke="#a7accb" stroke-width="1.1" fill="none" stroke-linecap="round" stroke-linejoin="round" />
<path d="M514.5 48.6h10.4v10h-10.4zM518.2 48.6v-3.3h3.8M519.6 52.2v2.6" stroke="#a7accb" stroke-width="1.1" fill="none" stroke-linecap="round" stroke-linejoin="round" />
<path d="M548.7 52.5v-8h8M552 47.6h9.7v11.8l-4.8-3.3l-4.9 3.3z" stroke="#a7accb" stroke-width="1.1" fill="none" stroke-linecap="round" stroke-linejoin="round" />
<path d="M598 48.5v-3.3h-13.5v13.4h4.5M587 49.5h5.6M587 52.6h3.6M591.2 57.2l1-2.6l5-5l1.7 1.7l-5 5zM594 58.6h4.3" stroke="#a7accb" stroke-width="1.1" fill="none" stroke-linecap="round" stroke-linejoin="round" />
<path d="M619.5 48h15.4M624 48v-2.8h6.4v2.8M621.3 48v11.6h11.8v-11.6M625.7 52v4M628.8 52v4" stroke="#a7accb" stroke-width="1.1" fill="none" stroke-linecap="round" stroke-linejoin="round" />
<path d="M15 94.8l4 4.2l4 -4.2" stroke="#7f85a3" stroke-width="1.1" fill="none" stroke-linecap="round" stroke-linejoin="round" />
<path d="M56.8 97C59.4 91 66.6 91 69.2 97C66.6 103 59.4 103 56.8 97Z" stroke="#7f85a3" stroke-width="1" fill="none" stroke-linecap="round" stroke-linejoin="round" /><circle cx="63" cy="97" r="2.4" fill="none" stroke="#7f85a3" stroke-width="1"/><circle cx="63" cy="97" r="0.7" fill="#7f85a3"/>
<path d="M82.2 90.8L88.1 93.9V100.1L82.2 103.2L76.3 100.1V93.9Z" stroke="#7f85a3" stroke-width="1" fill="none" stroke-linecap="round" stroke-linejoin="round" /><circle cx="82.2" cy="97" r="2.2" fill="none" stroke="#7f85a3" stroke-width="1"/><circle cx="82.2" cy="97" r="0.6" fill="#7f85a3"/>
<path d="M96.7 92.7l8.6 8.6M105.3 92.7l-8.6 8.6" stroke="#7f85a3" stroke-width="1" fill="none" stroke-linecap="round" stroke-linejoin="round" />
<path d="M101.0 115C103.60000000000001 109 110.8 109 113.4 115C110.8 121 103.60000000000001 121 101.0 115Z" stroke="#7f85a3" stroke-width="1" fill="none" stroke-linecap="round" stroke-linejoin="round" /><circle cx="107.2" cy="115" r="2.4" fill="none" stroke="#7f85a3" stroke-width="1"/><circle cx="107.2" cy="115" r="0.7" fill="#7f85a3"/>
<path d="M126.5 108.8L132.4 111.9V118.1L126.5 121.2L120.6 118.1V111.9Z" stroke="#7f85a3" stroke-width="1" fill="none" stroke-linecap="round" stroke-linejoin="round" /><circle cx="126.5" cy="115" r="2.2" fill="none" stroke="#7f85a3" stroke-width="1"/><circle cx="126.5" cy="115" r="0.6" fill="#7f85a3"/>
<path d="M141.39999999999998 110.7l8.6 8.6M150.0 110.7l-8.6 8.6" stroke="#7f85a3" stroke-width="1" fill="none" stroke-linecap="round" stroke-linejoin="round" />
<path d="M60.099999999999994 132.7C62.699999999999996 126.69999999999999 69.89999999999999 126.69999999999999 72.5 132.7C69.89999999999999 138.7 62.699999999999996 138.7 60.099999999999994 132.7Z" stroke="#7f85a3" stroke-width="1" fill="none" stroke-linecap="round" stroke-linejoin="round" /><circle cx="66.3" cy="132.7" r="2.4" fill="none" stroke="#7f85a3" stroke-width="1"/><circle cx="66.3" cy="132.7" r="0.7" fill="#7f85a3"/>
<path d="M85.5 126.49999999999999L91.4 129.6V135.8L85.5 138.89999999999998L79.6 135.8V129.6Z" stroke="#7f85a3" stroke-width="1" fill="none" stroke-linecap="round" stroke-linejoin="round" /><circle cx="85.5" cy="132.7" r="2.2" fill="none" stroke="#7f85a3" stroke-width="1"/><circle cx="85.5" cy="132.7" r="0.6" fill="#7f85a3"/>
<path d="M100.2 128.39999999999998l8.6 8.6M108.8 128.39999999999998l-8.6 8.6" stroke="#7f85a3" stroke-width="1" fill="none" stroke-linecap="round" stroke-linejoin="round" />
<path d="M15.2 605.8l4 4.2l4 -4.2" stroke="#7f85a3" stroke-width="1.1" fill="none" stroke-linecap="round" stroke-linejoin="round" />
<path d="M125.5 601.8L131.4 604.9V611.1L125.5 614.2L119.6 611.1V604.9Z" stroke="#7f85a3" stroke-width="1" fill="none" stroke-linecap="round" stroke-linejoin="round" /><circle cx="125.5" cy="608" r="2.2" fill="none" stroke="#7f85a3" stroke-width="1"/><circle cx="125.5" cy="608" r="0.6" fill="#7f85a3"/>
<path d="M140.5 603.7l8.6 8.6M149.10000000000002 603.7l-8.6 8.6" stroke="#7f85a3" stroke-width="1" fill="none" stroke-linecap="round" stroke-linejoin="round" />
<path d="M15.2 755.5l4 4.2l4 -4.2" stroke="#7f85a3" stroke-width="1.1" fill="none" stroke-linecap="round" stroke-linejoin="round" />
<path d="M100.2 751.5L106.1 754.6V760.8L100.2 763.9000000000001L94.3 760.8V754.6Z" stroke="#7f85a3" stroke-width="1" fill="none" stroke-linecap="round" stroke-linejoin="round" /><circle cx="100.2" cy="757.7" r="2.2" fill="none" stroke="#7f85a3" stroke-width="1"/><circle cx="100.2" cy="757.7" r="0.6" fill="#7f85a3"/>
<path d="M115.10000000000001 753.4000000000001l8.6 8.6M123.7 753.4000000000001l-8.6 8.6" stroke="#7f85a3" stroke-width="1" fill="none" stroke-linecap="round" stroke-linejoin="round" />
<rect x="1776.5" y="602.5" width="18" height="16.5" fill="none" stroke="#343a5c" stroke-width="1"/>
<path d="M1786.5 606h4.5v4M1784 615.5h-4.5v-4" stroke="#7f85a3" stroke-width="1" fill="none" stroke-linecap="round" stroke-linejoin="round" />
<path d="M21 925.6a5.6 5.6 0 0 1 5.6 5.6c0 3.2-3.6 5.6-5.6 7c-2-1.4-5.6-3.8-5.6-7a5.6 5.6 0 0 1 5.6-5.6z" stroke="#b9bed8" stroke-width="1" fill="none" stroke-linecap="round" stroke-linejoin="round" /><circle cx="21" cy="931.1" r="2.2" fill="none" stroke="#b9bed8" stroke-width="1"/>
</svg>
<span class="t" style="left:28.9px;top:11.0px;line-height:17px;font-size:13px;color:#b6bbd6;transform:scaleX(0.9962);-webkit-text-stroke:0.1px currentColor">指标</span>
<span class="t" style="left:60.6px;top:11.5px;line-height:16px;font-size:12px;color:#f7d8a2;transform:scaleX(0.9783);-webkit-text-stroke:0.25px currentColor">主力</span>
<span class="t" style="left:119.3px;top:11.0px;line-height:17px;font-size:13px;color:#b6bbd6;transform:scaleX(0.9769);-webkit-text-stroke:0.1px currentColor">设置</span>
<span class="t" style="left:176.4px;top:11.0px;line-height:17px;font-size:13px;color:#3a8df0;transform:scaleX(1.0240);-webkit-text-stroke:0.1px currentColor">画线</span>
<span class="t" style="left:234.0px;top:11.0px;line-height:17px;font-size:13px;color:#b6bbd6;transform:scaleX(1.0280);-webkit-text-stroke:0.1px currentColor">高级</span>
<span class="t" style="left:292.8px;top:11.0px;line-height:17px;font-size:13px;color:#f5a623;transform:scaleX(1.0289);-webkit-text-stroke:0.1px currentColor">高胜率</span>
<span class="t" style="left:351.4px;top:11.0px;line-height:17px;font-size:13px;color:#b6bbd6;transform:scaleX(1.0403);-webkit-text-stroke:0.1px currentColor">自定义周期</span>
<span class="t" style="left:443.5px;top:11.0px;line-height:17px;font-size:13px;color:#b6bbd6;transform:scaleX(1.0316);-webkit-text-stroke:0.1px currentColor">1秒</span>
<span class="t" style="left:475.6px;top:11.0px;line-height:17px;font-size:13px;color:#b6bbd6;transform:scaleX(1.0240);-webkit-text-stroke:0.1px currentColor">分时</span>
<span class="t" style="left:514.1px;top:11.0px;line-height:17px;font-size:13px;color:#b6bbd6;transform:scaleX(1.0094);-webkit-text-stroke:0.1px currentColor">1分钟</span>
<span class="t" style="left:560.0px;top:11.0px;line-height:17px;font-size:13px;color:#b6bbd6;transform:scaleX(0.9848);-webkit-text-stroke:0.1px currentColor">3分钟</span>
<span class="t" style="left:605.5px;top:11.0px;line-height:17px;font-size:13px;color:#b6bbd6;transform:scaleX(0.9939);-webkit-text-stroke:0.1px currentColor">5分钟</span>
<span class="t" style="left:649.8px;top:11.0px;line-height:17px;font-size:13px;color:#b6bbd6;transform:scaleX(1.0256);-webkit-text-stroke:0.1px currentColor">10分钟</span>
<span class="t" style="left:702.5px;top:11.0px;line-height:17px;font-size:13px;color:#b6bbd6;transform:scaleX(1.0205);-webkit-text-stroke:0.1px currentColor">15分钟</span>
<span class="t" style="left:755.8px;top:11.0px;line-height:17px;font-size:13px;color:#b6bbd6;transform:scaleX(0.9950);-webkit-text-stroke:0.1px currentColor">30分钟</span>
<span class="t" style="left:807.7px;top:11.0px;line-height:17px;font-size:13px;color:#b6bbd6;transform:scaleX(1.0219);-webkit-text-stroke:0.1px currentColor">1小时</span>
<span class="t" style="left:853.6px;top:11.0px;line-height:17px;font-size:13px;color:#b6bbd6;transform:scaleX(1.0000);-webkit-text-stroke:0.1px currentColor">2小时</span>
<span class="t" style="left:899.2px;top:11.0px;line-height:17px;font-size:13px;color:#b6bbd6;transform:scaleX(0.9909);-webkit-text-stroke:0.1px currentColor">3小时</span>
<span class="t" style="left:944.0px;top:11.0px;line-height:17px;font-size:13px;color:#3a8df0;transform:scaleX(1.0030);-webkit-text-stroke:0.1px currentColor">4小时</span>
<span class="t" style="left:989.6px;top:11.0px;line-height:17px;font-size:13px;color:#b6bbd6;transform:scaleX(0.9909);-webkit-text-stroke:0.1px currentColor">6小时</span>
<span class="t" style="left:1034.4px;top:11.0px;line-height:17px;font-size:13px;color:#b6bbd6;transform:scaleX(1.0256);-webkit-text-stroke:0.1px currentColor">12小时</span>
<span class="t" style="left:1086.6px;top:11.0px;line-height:17px;font-size:13px;color:#b6bbd6;transform:scaleX(1.0765);-webkit-text-stroke:0.1px currentColor">1日</span>
<span class="t" style="left:1119.7px;top:11.0px;line-height:17px;font-size:13px;color:#b6bbd6;transform:scaleX(1.0556);-webkit-text-stroke:0.1px currentColor">2日</span>
<span class="t" style="left:1152.2px;top:11.0px;line-height:17px;font-size:13px;color:#b6bbd6;transform:scaleX(1.0444);-webkit-text-stroke:0.1px currentColor">3日</span>
<span class="t" style="left:1184.9px;top:11.0px;line-height:17px;font-size:13px;color:#b6bbd6;transform:scaleX(1.0167);-webkit-text-stroke:0.1px currentColor">5日</span>
<span class="t" style="left:1216.3px;top:11.0px;line-height:17px;font-size:13px;color:#b6bbd6;transform:scaleX(1.0238);-webkit-text-stroke:0.1px currentColor">周K</span>
<span class="t" style="left:1250.0px;top:11.0px;line-height:17px;font-size:13px;color:#b6bbd6;transform:scaleX(1.0048);-webkit-text-stroke:0.1px currentColor">月K</span>
<span class="t" style="left:1281.6px;top:11.0px;line-height:17px;font-size:13px;color:#b6bbd6;transform:scaleX(1.0750);-webkit-text-stroke:0.1px currentColor">季K</span>
<span class="t" style="left:1315.8px;top:11.0px;line-height:17px;font-size:13px;color:#b6bbd6;transform:scaleX(1.0143);-webkit-text-stroke:0.1px currentColor">年K</span>
<span class="t" style="left:1732.2px;top:11.0px;line-height:17px;font-size:13px;color:#a0a5c0;transform:scaleX(1.0538);-webkit-text-stroke:0.4px currentColor">1s</span>
<span class="t" style="left:1808.8px;top:11.0px;line-height:16px;font-size:12px;color:#c9cde3;transform:scaleX(1.0029);-webkit-text-stroke:0.1px currentColor">单窗口</span>
<span class="t" style="left:3.8px;top:70.5px;line-height:16px;font-size:12px;color:#c3c8da;transform:scaleX(1.0346)">时间:</span>
<span class="t" style="left:32.3px;top:70.5px;line-height:16px;font-size:12px;color:#c3c8da;transform:scaleX(0.9862)">2021-08-28 08:00</span>
<span class="t" style="left:131.4px;top:70.5px;line-height:16px;font-size:12px;color:#c3c8da;transform:scaleX(0.9867)">开:</span>
<span class="t" style="left:147.2px;top:70.5px;line-height:16px;font-size:12px;color:#e8645a;transform:scaleX(0.9622)">5.0894</span>
<span class="t" style="left:189.5px;top:70.5px;line-height:16px;font-size:12px;color:#c3c8da;transform:scaleX(0.9667)">高:</span>
<span class="t" style="left:204.5px;top:70.5px;line-height:16px;font-size:12px;color:#e8645a;transform:scaleX(0.9861)">5.1031</span>
<span class="t" style="left:246.9px;top:70.5px;line-height:16px;font-size:12px;color:#c3c8da;transform:scaleX(0.9200)">低:</span>
<span class="t" style="left:261.3px;top:70.5px;line-height:16px;font-size:12px;color:#e8645a;transform:scaleX(1.0167)">4.9818</span>
<span class="t" style="left:303.6px;top:70.5px;line-height:16px;font-size:12px;color:#c3c8da;transform:scaleX(1.0286)">收:</span>
<span class="t" style="left:319.4px;top:70.5px;line-height:16px;font-size:12px;color:#e8645a;transform:scaleX(1.0056)">4.9867</span>
<span class="t" style="left:362.1px;top:70.5px;line-height:16px;font-size:12px;color:#c3c8da;transform:scaleX(0.9630)">涨幅:</span>
<span class="t" style="left:389.0px;top:70.5px;line-height:16px;font-size:12px;color:#e8645a;transform:scaleX(0.9744)">-2.01%(-0.1023)</span>
<span class="t" style="left:478.9px;top:70.5px;line-height:16px;font-size:12px;color:#c3c8da;transform:scaleX(0.9852)">振幅:</span>
<span class="t" style="left:505.9px;top:70.5px;line-height:16px;font-size:12px;color:#e8645a;transform:scaleX(0.9324)">2.38%</span>
<span class="t" style="left:33.7px;top:89.0px;line-height:16px;font-size:12px;color:#c3c8da;transform:scaleX(0.8750)">TD</span>
<span class="t" style="left:113.5px;top:89.0px;line-height:16px;font-size:12px;color:#1fc28a;transform:scaleX(0.9792)">Up:6</span>
<span class="t" style="left:32.7px;top:107.0px;line-height:16px;font-size:12px;color:#c3c8da;transform:scaleX(0.9623)">BOLL(20,2)</span>
<span class="t" style="left:157.7px;top:107.0px;line-height:16px;font-size:12px;color:#c3c8da;transform:scaleX(0.9768)">BOLL:4.9680</span>
<span class="t" style="left:232.2px;top:107.0px;line-height:16px;font-size:12px;color:#f0e53a;transform:scaleX(0.9732)">UB:5.2644</span>
<span class="t" style="left:293.4px;top:107.0px;line-height:16px;font-size:12px;color:#e34fc0;transform:scaleX(0.9981)">LB:4.6716</span>
<span class="t" style="left:32.7px;top:124.7px;line-height:16px;font-size:12px;color:#c3c8da;transform:scaleX(1.0176)">MA</span>
<span class="t" style="left:116.8px;top:124.7px;line-height:16px;font-size:12px;color:#c3c8da;transform:scaleX(1.0183)">MA(7):4.9147</span>
<span class="t" style="left:195.7px;top:124.7px;line-height:16px;font-size:12px;color:#f0e53a;transform:scaleX(1.0234)">MA(14):4.9113</span>
<span class="t" style="left:281.5px;top:124.7px;line-height:16px;font-size:12px;color:#e34fc0;transform:scaleX(1.0205)">MA(21):4.9755</span>
<span class="t" style="left:367.9px;top:124.7px;line-height:16px;font-size:12px;color:#3aa0dd;transform:scaleX(1.0115)">MA(60):5.1912</span>
<span class="t" style="left:453.5px;top:124.7px;line-height:16px;font-size:12px;color:#a5d66f;transform:scaleX(1.0118)">MA(120):5.0795</span>
<span class="t" style="left:545.9px;top:124.7px;line-height:16px;font-size:12px;color:#ef8f8f;transform:scaleX(1.0118)">MA(240):4.4670</span>
<span class="t" style="left:32.1px;top:600.0px;line-height:16px;font-size:12px;color:#c3c8da;transform:scaleX(0.9780)">MACD(12,26,9)</span>
<span class="t" style="left:156.8px;top:600.0px;line-height:16px;font-size:12px;color:#c3c8da;transform:scaleX(0.9790)">DIF:-0.0872</span>
<span class="t" style="left:223.9px;top:600.0px;line-height:16px;font-size:12px;color:#f0e53a;transform:scaleX(0.9672)">DEA:-0.1142</span>
<span class="t" style="left:295.7px;top:600.0px;line-height:16px;font-size:12px;color:#1fc28a;transform:scaleX(0.9824)">MACD:0.0539</span>
<span class="t" style="left:32.1px;top:749.7px;line-height:16px;font-size:12px;color:#c3c8da;transform:scaleX(0.9750)">KDJ(9,3,3)</span>
<span class="t" style="left:131.6px;top:749.7px;line-height:16px;font-size:12px;color:#c3c8da;transform:scaleX(0.9725)">K:73.71</span>
<span class="t" style="left:178.2px;top:749.7px;line-height:16px;font-size:12px;color:#f0e53a;transform:scaleX(0.9732)">D:58.28</span>
<span class="t" style="left:226.0px;top:749.7px;line-height:16px;font-size:12px;color:#e34fc0;transform:scaleX(0.9891)">J:104.56</span>
<span class="t" style="left:9.9px;top:730.5px;line-height:16px;font-size:12px;color:#b0b4ca;transform:scaleX(1.0588);-webkit-text-stroke:0.5px currentColor">MA</span>
<span class="t" style="left:38.4px;top:730.5px;line-height:16px;font-size:12px;color:#b0b4ca;transform:scaleX(1.0000);-webkit-text-stroke:0.5px currentColor">EMA</span>
<span class="t" style="left:75.0px;top:730.5px;line-height:16px;font-size:12px;color:#b0b4ca;transform:scaleX(0.9020);-webkit-text-stroke:0.5px currentColor">VOLUME</span>
<span class="t" style="left:131.0px;top:730.5px;line-height:16px;font-size:12px;color:#3a8df0;transform:scaleX(0.9824);-webkit-text-stroke:0.2px currentColor">MACD</span>
<span class="t" style="left:174.8px;top:730.5px;line-height:16px;font-size:12px;color:#b0b4ca;transform:scaleX(1.0500);-webkit-text-stroke:0.5px currentColor">DMI</span>
<span class="t" style="left:206.0px;top:730.5px;line-height:16px;font-size:12px;color:#b0b4ca;transform:scaleX(1.0192);-webkit-text-stroke:0.5px currentColor">DMA</span>
<span class="t" style="left:243.8px;top:730.5px;line-height:16px;font-size:12px;color:#b0b4ca;transform:scaleX(0.9259);-webkit-text-stroke:0.5px currentColor">TRIX</span>
<span class="t" style="left:278.3px;top:730.5px;line-height:16px;font-size:12px;color:#b0b4ca;transform:scaleX(0.9375);-webkit-text-stroke:0.5px currentColor">BRAR</span>
<span class="t" style="left:319.2px;top:730.5px;line-height:16px;font-size:12px;color:#b0b4ca;transform:scaleX(0.9375);-webkit-text-stroke:0.5px currentColor">VR</span>
<span class="t" style="left:344.2px;top:730.5px;line-height:16px;font-size:12px;color:#b0b4ca;transform:scaleX(0.9200);-webkit-text-stroke:0.5px currentColor">OBV</span>
<span class="t" style="left:376.2px;top:730.5px;line-height:16px;font-size:12px;color:#b0b4ca;transform:scaleX(1.0040);-webkit-text-stroke:0.5px currentColor">EMV</span>
<span class="t" style="left:411.3px;top:730.5px;line-height:16px;font-size:12px;color:#b0b4ca;transform:scaleX(0.9833);-webkit-text-stroke:0.5px currentColor">RSI</span>
<span class="t" style="left:440.0px;top:730.5px;line-height:16px;font-size:12px;color:#b0b4ca;transform:scaleX(0.9632);-webkit-text-stroke:0.5px currentColor">WR</span>
<span class="t" style="left:467.3px;top:730.5px;line-height:16px;font-size:12px;color:#b0b4ca;transform:scaleX(0.9565);-webkit-text-stroke:0.5px currentColor">SAR</span>
<span class="t" style="left:499.7px;top:730.5px;line-height:16px;font-size:12px;color:#70758e;transform:scaleX(1.0286);-webkit-text-stroke:0.2px currentColor">KDJ</span>
<span class="t" style="left:531.8px;top:730.5px;line-height:16px;font-size:12px;color:#b0b4ca;transform:scaleX(0.9200);-webkit-text-stroke:0.5px currentColor">ROC</span>
<span class="t" style="left:564.9px;top:730.5px;line-height:16px;font-size:12px;color:#b0b4ca;transform:scaleX(1.0654);-webkit-text-stroke:0.5px currentColor">MTM</span>
<span class="t" style="left:603.1px;top:730.5px;line-height:16px;font-size:12px;color:#b0b4ca;transform:scaleX(0.9433);-webkit-text-stroke:0.5px currentColor">BOLL</span>
<span class="t" style="left:641.4px;top:730.5px;line-height:16px;font-size:12px;color:#b0b4ca;transform:scaleX(0.9435);-webkit-text-stroke:0.5px currentColor">PSY</span>
<span class="t" style="left:673.4px;top:730.5px;line-height:16px;font-size:12px;color:#b0b4ca;transform:scaleX(0.9796);-webkit-text-stroke:0.5px currentColor">StochRSI</span>
<span class="t" style="left:731.7px;top:730.5px;line-height:16px;font-size:12px;color:#b0b4ca;transform:scaleX(1.0350);-webkit-text-stroke:0.5px currentColor">SMI</span>
<span class="t" style="left:763.8px;top:730.5px;line-height:16px;font-size:12px;color:#b0b4ca;transform:scaleX(0.9300);-webkit-text-stroke:0.5px currentColor">CCI</span>
<span class="t" style="left:791.3px;top:730.5px;line-height:16px;font-size:12px;color:#b0b4ca;transform:scaleX(1.0737);-webkit-text-stroke:0.5px currentColor">MFI</span>
<span class="t" style="left:823.1px;top:730.5px;line-height:16px;font-size:12px;color:#b0b4ca;transform:scaleX(0.9304);-webkit-text-stroke:0.5px currentColor">ATR</span>
<span class="t" style="left:853.5px;top:730.5px;line-height:16px;font-size:12px;color:#b0b4ca;transform:scaleX(0.9885);-webkit-text-stroke:0.5px currentColor">BBW</span>
<span class="t" style="left:889.2px;top:730.5px;line-height:16px;font-size:12px;color:#b0b4ca;transform:scaleX(0.9897);-webkit-text-stroke:0.5px currentColor">SKDJ</span>
<span class="t" style="left:928.2px;top:730.5px;line-height:16px;font-size:12px;color:#b0b4ca;transform:scaleX(1.0000);-webkit-text-stroke:0.5px currentColor">BIAS</span>
<span class="t" style="left:964.3px;top:730.5px;line-height:16px;font-size:12px;color:#b0b4ca;transform:scaleX(0.9360);-webkit-text-stroke:0.5px currentColor">DPO</span>
<span class="t" style="left:998.9px;top:730.5px;line-height:16px;font-size:12px;color:#b0b4ca;transform:scaleX(0.9059);-webkit-text-stroke:0.5px currentColor">AO</span>
<span class="t" style="left:1023.9px;top:730.5px;line-height:16px;font-size:12px;color:#b0b4ca;transform:scaleX(1.0561);-webkit-text-stroke:0.5px currentColor">Position</span>
<span class="t" style="left:1077.6px;top:730.5px;line-height:16px;font-size:12px;color:#b0b4ca;transform:scaleX(1.0146);-webkit-text-stroke:0.5px currentColor">Fundflow</span>
<span class="t" style="left:1138.0px;top:730.5px;line-height:16px;font-size:12px;color:#70758e;transform:scaleX(0.9483);-webkit-text-stroke:0.2px currentColor">AI-NetVOL</span>
<span class="t" style="left:1202.4px;top:730.5px;line-height:16px;font-size:12px;color:#b0b4ca;transform:scaleX(0.9533);-webkit-text-stroke:0.5px currentColor">LSUR</span>
<span class="t" style="left:1241.0px;top:730.5px;line-height:16px;font-size:12px;color:#b0b4ca;transform:scaleX(0.9588);-webkit-text-stroke:0.5px currentColor">BASIS</span>
<span class="t" style="left:1285.0px;top:730.5px;line-height:16px;font-size:12px;color:#b0b4ca;transform:scaleX(1.0128);-webkit-text-stroke:0.5px currentColor">TVolume</span>
<span class="t" style="left:1341.6px;top:730.5px;line-height:16px;font-size:12px;color:#b0b4ca;transform:scaleX(0.9862);-webkit-text-stroke:0.5px currentColor">FTBS</span>
<span class="t" style="left:1381.2px;top:730.5px;line-height:16px;font-size:12px;color:#b0b4ca;transform:scaleX(0.9720);-webkit-text-stroke:0.5px currentColor">TTSI</span>
<span class="t" style="left:1415.8px;top:730.5px;line-height:16px;font-size:12px;color:#b0b4ca;transform:scaleX(0.9909);-webkit-text-stroke:0.5px currentColor">TTMU</span>
<span class="t" style="left:1458.8px;top:730.5px;line-height:16px;font-size:12px;color:#70758e;transform:scaleX(0.9294);-webkit-text-stroke:0.2px currentColor">AI-BSI</span>
<span class="t" style="left:1500.0px;top:730.5px;line-height:16px;font-size:12px;color:#b0b4ca;transform:scaleX(1.0000);-webkit-text-stroke:0.5px currentColor">MLR</span>
<span class="t" style="left:1535.4px;top:730.5px;line-height:16px;font-size:12px;color:#70758e;transform:scaleX(0.9062);-webkit-text-stroke:0.2px currentColor">AI-PD</span>
<span class="t" style="left:1575.0px;top:730.5px;line-height:16px;font-size:12px;color:#70758e;transform:scaleX(0.9294);-webkit-text-stroke:0.2px currentColor">AI-FDI</span>
<span class="t" style="left:1617.0px;top:730.5px;line-height:16px;font-size:12px;color:#70758e;transform:scaleX(0.9600);-webkit-text-stroke:0.2px currentColor">AI-LI</span>
<span class="t" style="left:1650.3px;top:730.5px;line-height:16px;font-size:12px;color:#b0b4ca;transform:scaleX(0.9714);-webkit-text-stroke:0.5px currentColor">FR</span>
<span class="t" style="left:1674.6px;top:730.5px;line-height:16px;font-size:12px;color:#b0b4ca;transform:scaleX(0.9545);-webkit-text-stroke:0.5px currentColor">PFR</span>
<span class="t" style="left:1706.9px;top:730.5px;line-height:16px;font-size:12px;color:#70758e;transform:scaleX(0.9128);-webkit-text-stroke:0.2px currentColor">AI-BST</span>
<span class="t" style="left:1753.2px;top:730.5px;line-height:16px;font-size:12px;color:#70758e;transform:scaleX(0.9647);-webkit-text-stroke:0.2px currentColor">AI-CMLSI</span>
<span class="t" style="left:9.9px;top:881.5px;line-height:16px;font-size:12px;color:#b0b4ca;transform:scaleX(1.0588);-webkit-text-stroke:0.5px currentColor">MA</span>
<span class="t" style="left:38.4px;top:881.5px;line-height:16px;font-size:12px;color:#b0b4ca;transform:scaleX(1.0000);-webkit-text-stroke:0.5px currentColor">EMA</span>
<span class="t" style="left:75.0px;top:881.5px;line-height:16px;font-size:12px;color:#b0b4ca;transform:scaleX(0.9020);-webkit-text-stroke:0.5px currentColor">VOLUME</span>
<span class="t" style="left:131.0px;top:881.5px;line-height:16px;font-size:12px;color:#70758e;transform:scaleX(0.9824);-webkit-text-stroke:0.2px currentColor">MACD</span>
<span class="t" style="left:174.8px;top:881.5px;line-height:16px;font-size:12px;color:#b0b4ca;transform:scaleX(1.0500);-webkit-text-stroke:0.5px currentColor">DMI</span>
<span class="t" style="left:206.0px;top:881.5px;line-height:16px;font-size:12px;color:#b0b4ca;transform:scaleX(1.0192);-webkit-text-stroke:0.5px currentColor">DMA</span>
<span class="t" style="left:243.8px;top:881.5px;line-height:16px;font-size:12px;color:#b0b4ca;transform:scaleX(0.9259);-webkit-text-stroke:0.5px currentColor">TRIX</span>
<span class="t" style="left:278.3px;top:881.5px;line-height:16px;font-size:12px;color:#b0b4ca;transform:scaleX(0.9375);-webkit-text-stroke:0.5px currentColor">BRAR</span>
<span class="t" style="left:319.2px;top:881.5px;line-height:16px;font-size:12px;color:#b0b4ca;transform:scaleX(0.9375);-webkit-text-stroke:0.5px currentColor">VR</span>
<span class="t" style="left:344.2px;top:881.5px;line-height:16px;font-size:12px;color:#b0b4ca;transform:scaleX(0.9200);-webkit-text-stroke:0.5px currentColor">OBV</span>
<span class="t" style="left:376.2px;top:881.5px;line-height:16px;font-size:12px;color:#b0b4ca;transform:scaleX(1.0040);-webkit-text-stroke:0.5px currentColor">EMV</span>
<span class="t" style="left:411.3px;top:881.5px;line-height:16px;font-size:12px;color:#b0b4ca;transform:scaleX(0.9833);-webkit-text-stroke:0.5px currentColor">RSI</span>
<span class="t" style="left:440.0px;top:881.5px;line-height:16px;font-size:12px;color:#b0b4ca;transform:scaleX(0.9632);-webkit-text-stroke:0.5px currentColor">WR</span>
<span class="t" style="left:467.3px;top:881.5px;line-height:16px;font-size:12px;color:#b0b4ca;transform:scaleX(0.9565);-webkit-text-stroke:0.5px currentColor">SAR</span>
<span class="t" style="left:499.7px;top:881.5px;line-height:16px;font-size:12px;color:#3a8df0;transform:scaleX(1.0286);-webkit-text-stroke:0.2px currentColor">KDJ</span>
<span class="t" style="left:531.8px;top:881.5px;line-height:16px;font-size:12px;color:#b0b4ca;transform:scaleX(0.9200);-webkit-text-stroke:0.5px currentColor">ROC</span>
<span class="t" style="left:564.9px;top:881.5px;line-height:16px;font-size:12px;color:#b0b4ca;transform:scaleX(1.0654);-webkit-text-stroke:0.5px currentColor">MTM</span>
<span class="t" style="left:603.1px;top:881.5px;line-height:16px;font-size:12px;color:#b0b4ca;transform:scaleX(0.9433);-webkit-text-stroke:0.5px currentColor">BOLL</span>
<span class="t" style="left:641.4px;top:881.5px;line-height:16px;font-size:12px;color:#b0b4ca;transform:scaleX(0.9435);-webkit-text-stroke:0.5px currentColor">PSY</span>
<span class="t" style="left:673.4px;top:881.5px;line-height:16px;font-size:12px;color:#b0b4ca;transform:scaleX(0.9796);-webkit-text-stroke:0.5px currentColor">StochRSI</span>
<span class="t" style="left:731.7px;top:881.5px;line-height:16px;font-size:12px;color:#b0b4ca;transform:scaleX(1.0350);-webkit-text-stroke:0.5px currentColor">SMI</span>
<span class="t" style="left:763.8px;top:881.5px;line-height:16px;font-size:12px;color:#b0b4ca;transform:scaleX(0.9300);-webkit-text-stroke:0.5px currentColor">CCI</span>
<span class="t" style="left:791.3px;top:881.5px;line-height:16px;font-size:12px;color:#b0b4ca;transform:scaleX(1.0737);-webkit-text-stroke:0.5px currentColor">MFI</span>
<span class="t" style="left:823.1px;top:881.5px;line-height:16px;font-size:12px;color:#b0b4ca;transform:scaleX(0.9304);-webkit-text-stroke:0.5px currentColor">ATR</span>
<span class="t" style="left:853.5px;top:881.5px;line-height:16px;font-size:12px;color:#b0b4ca;transform:scaleX(0.9885);-webkit-text-stroke:0.5px currentColor">BBW</span>
<span class="t" style="left:889.2px;top:881.5px;line-height:16px;font-size:12px;color:#b0b4ca;transform:scaleX(0.9897);-webkit-text-stroke:0.5px currentColor">SKDJ</span>
<span class="t" style="left:928.2px;top:881.5px;line-height:16px;font-size:12px;color:#b0b4ca;transform:scaleX(1.0000);-webkit-text-stroke:0.5px currentColor">BIAS</span>
<span class="t" style="left:964.3px;top:881.5px;line-height:16px;font-size:12px;color:#b0b4ca;transform:scaleX(0.9360);-webkit-text-stroke:0.5px currentColor">DPO</span>
<span class="t" style="left:998.9px;top:881.5px;line-height:16px;font-size:12px;color:#b0b4ca;transform:scaleX(0.9059);-webkit-text-stroke:0.5px currentColor">AO</span>
<span class="t" style="left:1023.9px;top:881.5px;line-height:16px;font-size:12px;color:#b0b4ca;transform:scaleX(1.0561);-webkit-text-stroke:0.5px currentColor">Position</span>
<span class="t" style="left:1077.6px;top:881.5px;line-height:16px;font-size:12px;color:#b0b4ca;transform:scaleX(1.0146);-webkit-text-stroke:0.5px currentColor">Fundflow</span>
<span class="t" style="left:1138.0px;top:881.5px;line-height:16px;font-size:12px;color:#70758e;transform:scaleX(0.9483);-webkit-text-stroke:0.2px currentColor">AI-NetVOL</span>
<span class="t" style="left:1202.4px;top:881.5px;line-height:16px;font-size:12px;color:#b0b4ca;transform:scaleX(0.9533);-webkit-text-stroke:0.5px currentColor">LSUR</span>
<span class="t" style="left:1241.0px;top:881.5px;line-height:16px;font-size:12px;color:#b0b4ca;transform:scaleX(0.9588);-webkit-text-stroke:0.5px currentColor">BASIS</span>
<span class="t" style="left:1285.0px;top:881.5px;line-height:16px;font-size:12px;color:#b0b4ca;transform:scaleX(1.0128);-webkit-text-stroke:0.5px currentColor">TVolume</span>
<span class="t" style="left:1341.6px;top:881.5px;line-height:16px;font-size:12px;color:#b0b4ca;transform:scaleX(0.9862);-webkit-text-stroke:0.5px currentColor">FTBS</span>
<span class="t" style="left:1381.2px;top:881.5px;line-height:16px;font-size:12px;color:#b0b4ca;transform:scaleX(0.9720);-webkit-text-stroke:0.5px currentColor">TTSI</span>
<span class="t" style="left:1415.8px;top:881.5px;line-height:16px;font-size:12px;color:#b0b4ca;transform:scaleX(0.9909);-webkit-text-stroke:0.5px currentColor">TTMU</span>
<span class="t" style="left:1458.8px;top:881.5px;line-height:16px;font-size:12px;color:#70758e;transform:scaleX(0.9294);-webkit-text-stroke:0.2px currentColor">AI-BSI</span>
<span class="t" style="left:1500.0px;top:881.5px;line-height:16px;font-size:12px;color:#b0b4ca;transform:scaleX(1.0000);-webkit-text-stroke:0.5px currentColor">MLR</span>
<span class="t" style="left:1535.4px;top:881.5px;line-height:16px;font-size:12px;color:#70758e;transform:scaleX(0.9062);-webkit-text-stroke:0.2px currentColor">AI-PD</span>
<span class="t" style="left:1575.0px;top:881.5px;line-height:16px;font-size:12px;color:#70758e;transform:scaleX(0.9294);-webkit-text-stroke:0.2px currentColor">AI-FDI</span>
<span class="t" style="left:1617.0px;top:881.5px;line-height:16px;font-size:12px;color:#70758e;transform:scaleX(0.9600);-webkit-text-stroke:0.2px currentColor">AI-LI</span>
<span class="t" style="left:1650.3px;top:881.5px;line-height:16px;font-size:12px;color:#b0b4ca;transform:scaleX(0.9714);-webkit-text-stroke:0.5px currentColor">FR</span>
<span class="t" style="left:1674.6px;top:881.5px;line-height:16px;font-size:12px;color:#b0b4ca;transform:scaleX(0.9545);-webkit-text-stroke:0.5px currentColor">PFR</span>
<span class="t" style="left:1706.9px;top:881.5px;line-height:16px;font-size:12px;color:#70758e;transform:scaleX(0.9128);-webkit-text-stroke:0.2px currentColor">AI-BST</span>
<span class="t" style="left:1753.2px;top:881.5px;line-height:16px;font-size:12px;color:#70758e;transform:scaleX(0.9647);-webkit-text-stroke:0.2px currentColor">AI-CMLSI</span>
<span class="t" style="left:119.4px;top:902.5px;line-height:16px;font-size:12px;color:#c3c8da;transform:scaleX(1.0176)">7月 11</span>
<span class="t" style="left:209.4px;top:902.5px;line-height:16px;font-size:12px;color:#c3c8da;transform:scaleX(0.9886)">7月 14</span>
<span class="t" style="left:299.4px;top:902.5px;line-height:16px;font-size:12px;color:#c3c8da;transform:scaleX(0.9886)">7月 17</span>
<span class="t" style="left:389.4px;top:902.5px;line-height:16px;font-size:12px;color:#c3c8da;transform:scaleX(0.9886)">7月 20</span>
<span class="t" style="left:479.4px;top:902.5px;line-height:16px;font-size:12px;color:#c3c8da;transform:scaleX(0.9886)">7月 23</span>
<span class="t" style="left:569.4px;top:902.5px;line-height:16px;font-size:12px;color:#c3c8da;transform:scaleX(0.9886)">7月 26</span>
<span class="t" style="left:659.4px;top:902.5px;line-height:16px;font-size:12px;color:#c3c8da;transform:scaleX(0.9886)">7月 29</span>
<span class="t" style="left:752.7px;top:902.5px;line-height:16px;font-size:12px;color:#c3c8da;transform:scaleX(1.0000)">8月 1</span>
<span class="t" style="left:842.7px;top:902.5px;line-height:16px;font-size:12px;color:#c3c8da;transform:scaleX(0.9655)">8月 4</span>
<span class="t" style="left:932.7px;top:902.5px;line-height:16px;font-size:12px;color:#c3c8da;transform:scaleX(1.0000)">8月 7</span>
<span class="t" style="left:1019.4px;top:902.5px;line-height:16px;font-size:12px;color:#c3c8da;transform:scaleX(0.9886)">8月 10</span>
<span class="t" style="left:1109.4px;top:902.5px;line-height:16px;font-size:12px;color:#c3c8da;transform:scaleX(0.9886)">8月 13</span>
<span class="t" style="left:1199.4px;top:902.5px;line-height:16px;font-size:12px;color:#c3c8da;transform:scaleX(0.9886)">8月 16</span>
<span class="t" style="left:1289.4px;top:902.5px;line-height:16px;font-size:12px;color:#c3c8da;transform:scaleX(0.9886)">8月 19</span>
<span class="t" style="left:1379.4px;top:902.5px;line-height:16px;font-size:12px;color:#c3c8da;transform:scaleX(0.9886)">8月 22</span>
<span class="t" style="left:1469.4px;top:902.5px;line-height:16px;font-size:12px;color:#c3c8da;transform:scaleX(0.9886)">8月 25</span>
<span class="t" style="left:1649.4px;top:902.5px;line-height:16px;font-size:12px;color:#c3c8da;transform:scaleX(0.9886)">8月 31</span>
<span class="t" style="left:1742.7px;top:902.5px;line-height:16px;font-size:12px;color:#c3c8da;transform:scaleX(1.0000)">9月 3</span>
<span class="t" style="left:1532.0px;top:902.5px;line-height:16px;font-size:12px;color:#e4e6f1;transform:scaleX(0.9874);-webkit-text-stroke:0.55px currentColor">2021-08-28 08:00:00</span>
<span class="t" style="left:1792.0px;top:902.5px;line-height:16px;font-size:12px;color:#3a8df0;transform:scaleX(1.0304);-webkit-text-stroke:0.1px currentColor">对数</span>
<span class="t" style="left:1828.0px;top:902.5px;line-height:16px;font-size:12px;color:#c3c8da;transform:scaleX(0.7000)">%</span>
<span class="t" style="left:1844.3px;top:902.5px;line-height:16px;font-size:12px;color:#3a8df0;transform:scaleX(1.0727);-webkit-text-stroke:0.1px currentColor">自动</span>
<span class="t" style="left:31.0px;top:924.0px;line-height:16px;font-size:12px;color:#e8ebf5;transform:scaleX(1.1304);font-weight:700;-webkit-text-stroke:0">定位到...</span>
<span class="t" style="left:1823.8px;top:111.5px;line-height:16px;font-size:12px;color:#aab0c4;transform:scaleX(1.0167)">5.8237</span>
<span class="t" style="left:1823.8px;top:161.5px;line-height:16px;font-size:12px;color:#aab0c4;transform:scaleX(1.0167)">5.4328</span>
<span class="t" style="left:1823.8px;top:211.5px;line-height:16px;font-size:12px;color:#aab0c4;transform:scaleX(1.0167)">5.0681</span>
<span class="t" style="left:1823.8px;top:261.5px;line-height:16px;font-size:12px;color:#aab0c4;transform:scaleX(1.0167)">4.7280</span>
<span class="t" style="left:1823.8px;top:311.5px;line-height:16px;font-size:12px;color:#aab0c4;transform:scaleX(1.0167)">4.4106</span>
<span class="t" style="left:1823.8px;top:361.5px;line-height:16px;font-size:12px;color:#aab0c4;transform:scaleX(1.0167)">4.1146</span>
<span class="t" style="left:1823.8px;top:411.5px;line-height:16px;font-size:12px;color:#aab0c4;transform:scaleX(0.9892)">3.8384</span>
<span class="t" style="left:1823.8px;top:461.5px;line-height:16px;font-size:12px;color:#aab0c4;transform:scaleX(1.0167)">3.5808</span>
<span class="t" style="left:1823.8px;top:511.5px;line-height:16px;font-size:12px;color:#aab0c4;transform:scaleX(0.9892)">3.3404</span>
<span class="t" style="left:1823.8px;top:561.5px;line-height:16px;font-size:12px;color:#aab0c4;transform:scaleX(1.0167)">3.1162</span>
<span class="t" style="left:1823.8px;top:181.5px;line-height:16px;font-size:12px;color:#ffffff;transform:scaleX(0.9892);font-weight:700;-webkit-text-stroke:0">5.2828</span>
<span class="t" style="left:1823.7px;top:623.0px;line-height:16px;font-size:12px;color:#aab0c4;transform:scaleX(1.0111)">0.2000</span>
<span class="t" style="left:1823.7px;top:668.0px;line-height:16px;font-size:12px;color:#aab0c4;transform:scaleX(1.0111)">0.0000</span>
<span class="t" style="left:1821.4px;top:713.0px;line-height:16px;font-size:12px;color:#aab0c4;transform:scaleX(1.0100)">-0.2000</span>
<span class="t" style="left:1823.7px;top:641.7px;line-height:16px;font-size:12px;color:#e3e5f0;transform:scaleX(1.0111);font-weight:700;-webkit-text-stroke:0">0.1137</span>
<span class="t" style="left:1796.4px;top:638.8px;line-height:21px;font-size:17px;color:#e6e8f2;transform:scaleX(1.1250)">+</span>
<span class="t" style="left:1822.7px;top:774.5px;line-height:16px;font-size:12px;color:#aab0c4;transform:scaleX(1.0400)">100.00</span>
<span class="t" style="left:1827.3px;top:816.5px;line-height:16px;font-size:12px;color:#aab0c4;transform:scaleX(0.9733)">50.00</span>
<span class="t" style="left:1830.6px;top:859.0px;line-height:16px;font-size:12px;color:#aab0c4;transform:scaleX(0.9826)">0.00</span>
<span class="t" style="left:1175.5px;top:97.0px;line-height:16px;font-size:12px;color:#c3c8da;transform:scaleX(1.0139)">5.9403</span>
<span class="t" style="left:432.5px;top:552.5px;line-height:16px;font-size:12px;color:#c3c8da;transform:scaleX(1.0139)">3.1532</span>
<span class="t" style="left:853.4px;top:165.0px;line-height:35px;font-size:31px;color:#f7231a;transform:scaleX(1.0183)">EOS9.2分析图</span>
<span class="t" style="left:293.8px;top:42.8px;line-height:19px;font-size:15px;color:#a7accb;transform:scaleX(0.9474);-webkit-text-stroke:0.05px currentColor">Aa</span>
</body></html>
